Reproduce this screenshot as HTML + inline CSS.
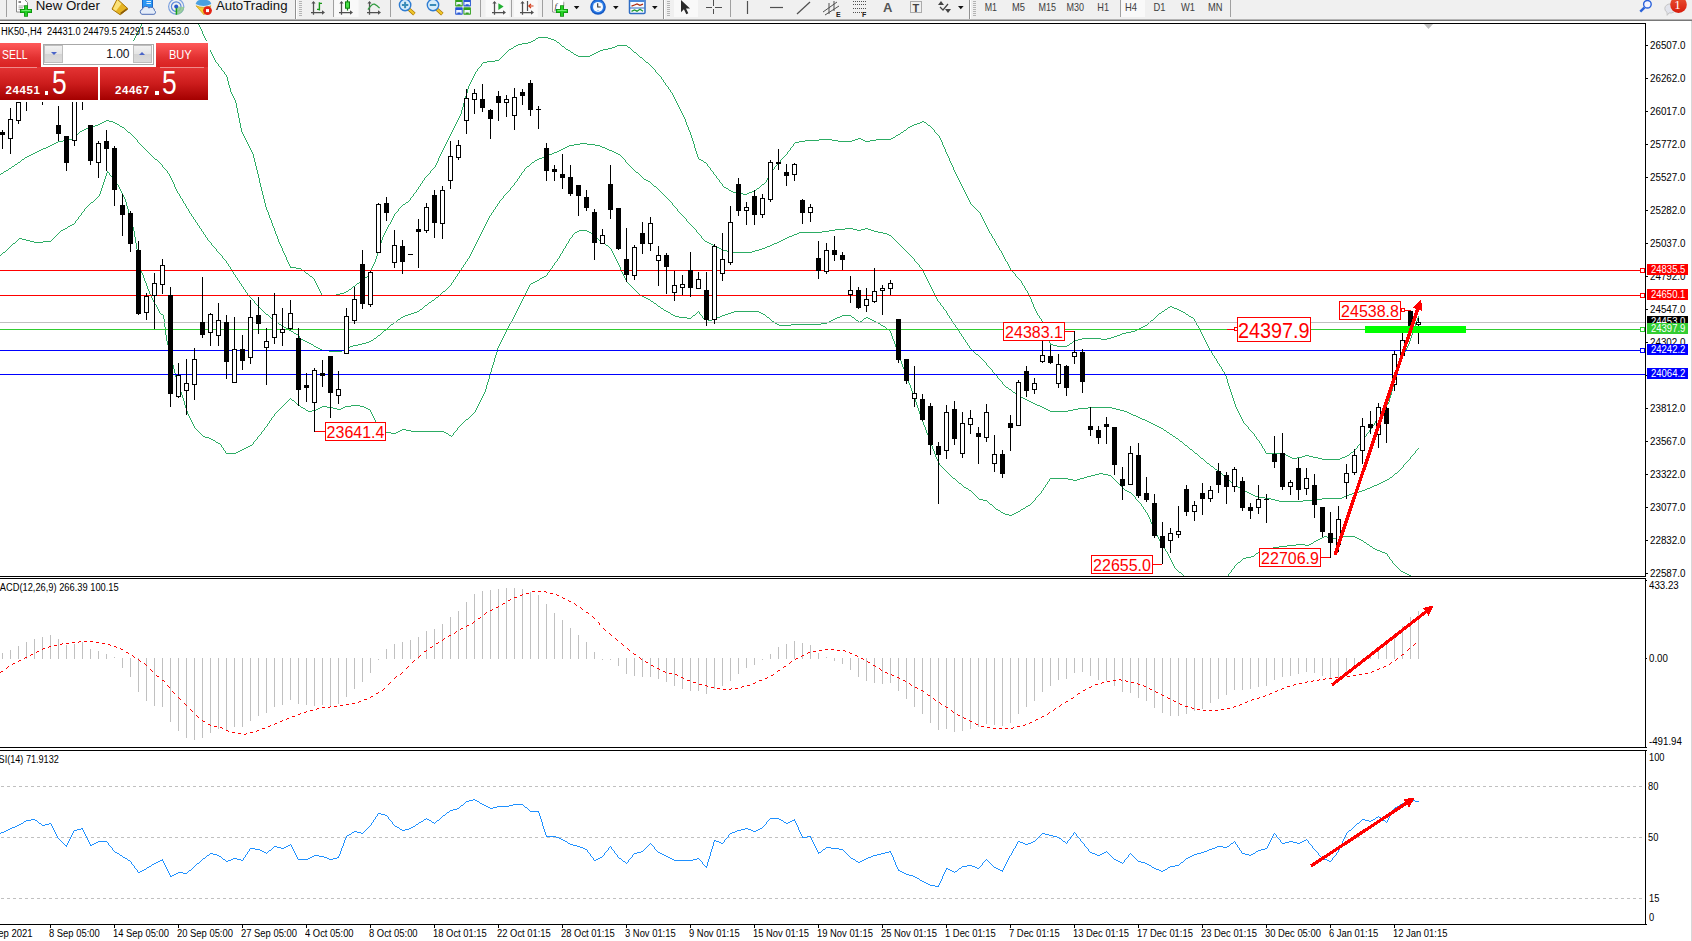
<!DOCTYPE html>
<html><head><meta charset="utf-8"><title>HK50 H4</title><style>
*{margin:0;padding:0;box-sizing:border-box}
html,body{width:1692px;height:941px;overflow:hidden;background:#fff}
body{position:relative;font-family:"Liberation Sans",sans-serif}
svg{position:absolute;left:0;top:0}
.t{position:absolute;white-space:nowrap;line-height:12px;transform-origin:0 0}
.pb{position:absolute;left:1647px;width:41px;height:11px;font-size:10px;line-height:11px;white-space:nowrap;overflow:hidden}
.pb span{position:absolute;left:4px;top:0;transform:scaleX(.95);transform-origin:0 0}
.lb{position:absolute;border:1px solid #FF0000;background:#fff;color:#FF0000;text-align:center;white-space:nowrap;box-sizing:content-box;overflow:hidden}
.lb span{display:inline-block}
.big span{transform:scaleX(.9);transform-origin:50% 50%;margin:0 -6px}
#tp{position:absolute;left:0;top:43px;width:208px;height:57px}
#tp div{position:absolute;white-space:nowrap}
.rb{background:linear-gradient(#FF5A5A,#E23030 60%,#D82020);color:#fff}
.pp{background:linear-gradient(#E43434 0%,#CC1C1C 50%,#A40000 100%)}
.w{color:#fff;transform-origin:0 0}
.gb{background:linear-gradient(#F2F2F2 0%,#E4E4E4 49%,#D4D4D4 50%,#DCDCDC 100%);border:1px solid #BEBEBE}
</style></head><body>
<svg width="1692" height="941" viewBox="0 0 1692 941">
<defs><clipPath id="cm"><rect x="0" y="24" width="1645" height="552"/></clipPath></defs>
<rect x="0" y="0" width="1692" height="19" fill="#F0F0F0"/>
<rect x="0" y="19" width="1692" height="1" fill="#B4B4B4"/>
<rect x="0" y="20" width="1692" height="1" fill="#787878"/>
<rect x="0" y="21" width="1692" height="2" fill="#FFFFFF"/>
<rect x="6" y="0" width="1" height="17" fill="#A0A0A0"/>
<path d="M16.5,0 V12 H27.5 V2.5 L25,0" fill="#fff" stroke="#888" stroke-width="1"/>
<rect x="18.5" y="1.2" width="2.5" height="1.6" fill="#666"/>
<path d="M18.5,6H24M18.5,7.8H23M18.5,9.6H23" stroke="#999" stroke-width="0.9"/>
<path d="M26,5.25 v11.5 M20,11 h12" stroke="#0C8A0C" stroke-width="3.9" fill="none"/>
<path d="M26,6 v10 M20.8,11 h10.4" stroke="#22D022" stroke-width="2.3" fill="none"/>
<path d="M21.5,10.5 h9" stroke="#7CF07C" stroke-width="0.9" fill="none"/>
<polygon points="117.2,-1 128,8.8 120.2,14.8 112,9.1" fill="#E6B422" stroke="#A87408" stroke-width="1"/>
<polygon points="117.3,0 121.5,3.8 116,11 113,9" fill="#FBE27A"/>
<path d="M120.6,13.6 L127,8.8" stroke="#8A5A08" stroke-width="1.6"/>
<rect x="142.5" y="-1" width="10" height="8.5" fill="#2A96F4" stroke="#1A6ACC" stroke-width="1"/>
<path d="M146.5,3.5H151M146.5,1.5H151" stroke="#DFF0FF" stroke-width="1"/>
<path d="M142,14.3 a2.6,2.6 0 0 1 0.3,-5 a3.6,3.6 0 0 1 6.6,-1.3 a3.4,3.4 0 0 1 5.6,2.6 a2,2 0 0 1 -0.6,3.7 z" fill="#E4ECF8" stroke="#4A6CB4" stroke-width="1"/>
<circle cx="176.2" cy="6.6" r="7.6" fill="none" stroke="#7DA2E0" stroke-width="1.2"/>
<circle cx="176.2" cy="6.6" r="4.8" fill="none" stroke="#5A86DA" stroke-width="1.2"/>
<path d="M176.2,6.6 L176.2,14.8 A8.2,8.2 0 0 0 184.3,7 Z" fill="#8FC98F" opacity="0.85"/>
<path d="M176.4,7 V14.7" stroke="#18A018" stroke-width="1.5"/>
<circle cx="176.2" cy="6.6" r="2" fill="#2858C8"/>
<path d="M195.6,4 Q197,0 200,0 L201.5,-2 H206 L207,0 Q210.5,0.5 211.3,4 Q203.5,8 195.6,4 Z" fill="#4AA0E0"/>
<path d="M196,5.8 Q203.5,9 211,5.8 L204,14.8 Z" fill="#F2CC30" stroke="#C89A10" stroke-width="0.7"/>
<circle cx="207.5" cy="10.6" r="4.4" fill="#E42414"/>
<rect x="206" y="9.1" width="3" height="3" fill="#fff"/>
<rect x="295" y="0" width="1" height="19" fill="#909090"/><rect x="296" y="0" width="1" height="19" fill="#FFFFFF"/>
<rect x="299" y="1" width="3" height="1" fill="#B4B4B4"/>
<rect x="299" y="3" width="3" height="1" fill="#B4B4B4"/>
<rect x="299" y="5" width="3" height="1" fill="#B4B4B4"/>
<rect x="299" y="7" width="3" height="1" fill="#B4B4B4"/>
<rect x="299" y="9" width="3" height="1" fill="#B4B4B4"/>
<rect x="299" y="11" width="3" height="1" fill="#B4B4B4"/>
<rect x="299" y="13" width="3" height="1" fill="#B4B4B4"/>
<rect x="299" y="15" width="3" height="1" fill="#B4B4B4"/>
<path d="M313.5,2 V14.7 M311,12.5 H323" stroke="#505050" stroke-width="1.25" fill="none"/>
<polygon points="322,10.3 325,12.5 322,14.7" fill="#505050"/>
<polygon points="311.4,3.6 313.5,1 315.6,3.6" fill="#505050"/>
<path d="M319.4,2.2 V10.6 M319.4,3.4 H322 M317,9.4 H319.4" stroke="#189818" stroke-width="1.4" fill="none"/>
<rect x="333" y="0" width="1" height="17" fill="#A0A0A0"/>
<rect x="334.3" y="0" width="24.3" height="17" fill="#F9F9F9"/>
<path d="M341.5,2 V14.7 M339,12.5 H351" stroke="#505050" stroke-width="1.25" fill="none"/>
<polygon points="350,10.3 353,12.5 350,14.7" fill="#505050"/>
<polygon points="339.4,3.6 341.5,1 343.6,3.6" fill="#505050"/>
<path d="M347.5,0 V10.6" stroke="#0E7A0E" stroke-width="1.2"/><rect x="345.5" y="1.9" width="4" height="6.3" fill="#46E046" stroke="#0E7A0E" stroke-width="1"/>
<path d="M369.5,2 V14.7 M367,12.5 H379" stroke="#505050" stroke-width="1.25" fill="none"/>
<polygon points="378,10.3 381,12.5 378,14.7" fill="#505050"/>
<polygon points="367.4,3.6 369.5,1 371.6,3.6" fill="#505050"/>
<path d="M368,9.7 Q372,3.4 374.5,4.2 Q377,5.4 379.6,8.1" stroke="#2E9A3E" stroke-width="1.3" fill="none"/>
<rect x="390" y="0" width="1" height="17" fill="#A0A0A0"/>
<path d="M408.70000000000005,9 L414.40000000000003,14.1" stroke="#A87408" stroke-width="3.6"/>
<path d="M409.0,9.2 L414.20000000000005,13.9" stroke="#F0C82A" stroke-width="2.2"/>
<circle cx="405.1" cy="5" r="5.7" fill="#D6ECFA" stroke="#2E7CD2" stroke-width="1.4"/>
<path d="M401.90000000000003,5 H408.3" stroke="#3A8CB8" stroke-width="2"/>
<path d="M405.1,1.8 V8.2" stroke="#3A8CB8" stroke-width="2"/>
<path d="M436.6,9 L442.3,14.1" stroke="#A87408" stroke-width="3.6"/>
<path d="M436.9,9.2 L442.1,13.9" stroke="#F0C82A" stroke-width="2.2"/>
<circle cx="433" cy="5" r="5.7" fill="#D6ECFA" stroke="#2E7CD2" stroke-width="1.4"/>
<path d="M429.8,5 H436.2" stroke="#3A8CB8" stroke-width="2"/>
<rect x="455.2" y="-1" width="7.5" height="7.5" rx="0.8" fill="#32A01E"/>
<path d="M456.2,1.9 h5.5 v3.4 h-1.2 v-1 h-3.1 v1 h-1.2 z" fill="#F2F6FF"/>
<rect x="463.4" y="-1" width="7.5" height="7.5" rx="0.8" fill="#2656D2"/>
<path d="M464.4,1.9 h5.5 v3.4 h-1.2 v-1 h-3.1 v1 h-1.2 z" fill="#F2F6FF"/>
<rect x="455.2" y="7.2" width="7.5" height="7.5" rx="0.8" fill="#2656D2"/>
<path d="M456.2,10.1 h5.5 v3.4 h-1.2 v-1 h-3.1 v1 h-1.2 z" fill="#F2F6FF"/>
<rect x="463.4" y="7.2" width="7.5" height="7.5" rx="0.8" fill="#32A01E"/>
<path d="M464.4,10.1 h5.5 v3.4 h-1.2 v-1 h-3.1 v1 h-1.2 z" fill="#F2F6FF"/>
<rect x="480" y="0" width="1" height="17" fill="#A0A0A0"/>
<rect x="485.6" y="0" width="23.8" height="17" fill="#F9F9F9"/>
<path d="M494.5,2 V14.7 M492,12.5 H504" stroke="#505050" stroke-width="1.25" fill="none"/>
<polygon points="503,10.3 506,12.5 503,14.7" fill="#505050"/>
<polygon points="492.4,3.6 494.5,1 496.6,3.6" fill="#505050"/>
<polygon points="498.4,3.2 498.4,10 503.6,6.6" fill="#22B032"/>
<rect x="511" y="0" width="1" height="17" fill="#A0A0A0"/>
<rect x="514" y="0" width="23.8" height="17" fill="#F9F9F9"/>
<path d="M522.5,2 V14.7 M520,12.5 H532" stroke="#505050" stroke-width="1.25" fill="none"/>
<polygon points="531,10.3 534,12.5 531,14.7" fill="#505050"/>
<polygon points="520.4,3.6 522.5,1 524.6,3.6" fill="#505050"/>
<path d="M527.5,1 V11" stroke="#505050" stroke-width="1.2"/><path d="M533.5,6 H528.8 M531,3.8 L528.8,6 L531,8.2" stroke="#D23410" stroke-width="1.2" fill="none"/>
<rect x="542" y="0" width="1" height="17" fill="#A0A0A0"/>
<path d="M552.7,0 V12 H560 M563.7,6 V2.5 L561.2,0" fill="none" stroke="#888" stroke-width="1"/>
<rect x="553.2" y="0" width="10" height="11.5" fill="#fff"/>
<text x="554.5" y="8.5" font-size="9" font-style="italic" font-family="Liberation Serif" fill="#333">f</text>
<path d="M562,5.25 v11.5 M556,11 h12" stroke="#0C8A0C" stroke-width="3.9" fill="none"/>
<path d="M562,6 v10 M556.8,11 h10.4" stroke="#22D022" stroke-width="2.3" fill="none"/>
<path d="M557.5,10.5 h9" stroke="#7CF07C" stroke-width="0.9" fill="none"/>
<polygon points="573.8,6 579.4,6 576.5999999999999,9.2" fill="#111"/>
<circle cx="598" cy="6.9" r="7.8" fill="#1458C4"/><circle cx="598" cy="6.6" r="6.6" fill="#2A7AE4"/><circle cx="598" cy="6.9" r="5" fill="#F6FAFF"/><path d="M597.7,3.3 V7 H600.7" stroke="#333" stroke-width="1.1" fill="none"/><circle cx="598" cy="10.6" r="0.7" fill="#6AA8F0"/>
<polygon points="613,6 618.6,6 615.8,9.2" fill="#111"/>
<rect x="629.5" y="-1" width="15.5" height="14.5" rx="1" fill="#F8FBFF" stroke="#2E6CC4" stroke-width="1.5"/>
<rect x="630" y="0" width="14.5" height="2" fill="#4A88DA"/><path d="M630,8H644.5" stroke="#2E6CC4" stroke-width="1"/>
<path d="M631.5,6.2 L634.5,5 L637,4 L640,5.4 L643,4.2" stroke="#B02A10" stroke-width="1.3" fill="none"/><path d="M631.5,11.3 L634.5,10 L637,11.2 L640,9.3 L643,11.3" stroke="#1E9A32" stroke-width="1.3" fill="none"/>
<polygon points="652,6 657.6,6 654.8,9.2" fill="#111"/>
<rect x="663" y="0" width="1" height="19" fill="#909090"/><rect x="664" y="0" width="1" height="19" fill="#FFFFFF"/>
<rect x="667" y="1" width="3" height="1" fill="#B4B4B4"/>
<rect x="667" y="3" width="3" height="1" fill="#B4B4B4"/>
<rect x="667" y="5" width="3" height="1" fill="#B4B4B4"/>
<rect x="667" y="7" width="3" height="1" fill="#B4B4B4"/>
<rect x="667" y="9" width="3" height="1" fill="#B4B4B4"/>
<rect x="667" y="11" width="3" height="1" fill="#B4B4B4"/>
<rect x="667" y="13" width="3" height="1" fill="#B4B4B4"/>
<rect x="667" y="15" width="3" height="1" fill="#B4B4B4"/>
<rect x="674" y="0" width="24" height="17" fill="#F9F9F9"/>
<polygon points="681,0 681,12.2 683.9,9.3 686.3,14.2 688.3,13.2 686,8.6 690,8.6" fill="#2A2A2A"/>
<path d="M713.5,0 V14 M706,7.5 H722" stroke="#505050" stroke-width="1"/><rect x="712" y="6" width="3" height="3" fill="#F0F0F0"/>
<rect x="730" y="0" width="1" height="17" fill="#A0A0A0"/>
<path d="M747.5,1 V14" stroke="#505050" stroke-width="1.2"/>
<path d="M770,7.5 H783" stroke="#505050" stroke-width="1.2"/>
<path d="M797,14 L810,2" stroke="#505050" stroke-width="1.2"/>
<path d="M823,12 L837,2 M825,15 L839,6 M829,3 V14 M834,1 V11" stroke="#505050" stroke-width="1"/>
<text x="836" y="17" font-size="7" font-family="Liberation Sans" fill="#222" font-weight="bold">E</text>
<path d="M853,1.5 H866" stroke="#505050" stroke-width="1" stroke-dasharray="1 1"/>
<path d="M853,4.5 H866" stroke="#505050" stroke-width="1" stroke-dasharray="1 1"/>
<path d="M853,8.5 H866" stroke="#505050" stroke-width="1" stroke-dasharray="1 1"/>
<path d="M853,12.5 H866" stroke="#505050" stroke-width="1" stroke-dasharray="1 1"/>
<text x="862" y="17" font-size="7" font-family="Liberation Sans" fill="#222" font-weight="bold">F</text>
<text x="883" y="12" font-size="13" font-family="Liberation Sans" fill="#555" font-weight="bold">A</text>
<rect x="910.5" y="1.5" width="11" height="11" fill="none" stroke="#666" stroke-width="1" stroke-dasharray="1 1"/>
<text x="912.5" y="12" font-size="11" font-family="Liberation Sans" fill="#444" font-weight="bold">T</text>
<path d="M938,5 L941,1 L944,5 Z M945,9 L948,13 L951,9 Z" fill="#444"/><path d="M940,7 L943,10 L948,4" stroke="#444" stroke-width="1.2" fill="none"/>
<polygon points="958,6 963.6,6 960.8,9.2" fill="#111"/>
<rect x="969" y="0" width="1" height="19" fill="#909090"/><rect x="970" y="0" width="1" height="19" fill="#FFFFFF"/>
<rect x="973" y="1" width="3" height="1" fill="#B4B4B4"/>
<rect x="973" y="3" width="3" height="1" fill="#B4B4B4"/>
<rect x="973" y="5" width="3" height="1" fill="#B4B4B4"/>
<rect x="973" y="7" width="3" height="1" fill="#B4B4B4"/>
<rect x="973" y="9" width="3" height="1" fill="#B4B4B4"/>
<rect x="973" y="11" width="3" height="1" fill="#B4B4B4"/>
<rect x="973" y="13" width="3" height="1" fill="#B4B4B4"/>
<rect x="973" y="15" width="3" height="1" fill="#B4B4B4"/>
<rect x="1120" y="0" width="1" height="17" fill="#A0A0A0"/>
<rect x="1121" y="0" width="24" height="17" fill="#F9F9F9"/>
<text x="984.7" y="11.2" font-size="10.5" font-family="Liberation Sans" fill="#404040" textLength="12.3" lengthAdjust="spacingAndGlyphs">M1</text>
<text x="1012" y="11.2" font-size="10.5" font-family="Liberation Sans" fill="#404040" textLength="13" lengthAdjust="spacingAndGlyphs">M5</text>
<text x="1038.5" y="11.2" font-size="10.5" font-family="Liberation Sans" fill="#404040" textLength="17.5" lengthAdjust="spacingAndGlyphs">M15</text>
<text x="1066.5" y="11.2" font-size="10.5" font-family="Liberation Sans" fill="#404040" textLength="17.5" lengthAdjust="spacingAndGlyphs">M30</text>
<text x="1097.3" y="11.2" font-size="10.5" font-family="Liberation Sans" fill="#404040" textLength="11.7" lengthAdjust="spacingAndGlyphs">H1</text>
<text x="1125" y="11.2" font-size="10.5" font-family="Liberation Sans" fill="#404040" textLength="12" lengthAdjust="spacingAndGlyphs">H4</text>
<text x="1153.5" y="11.2" font-size="10.5" font-family="Liberation Sans" fill="#404040" textLength="12" lengthAdjust="spacingAndGlyphs">D1</text>
<text x="1181" y="11.2" font-size="10.5" font-family="Liberation Sans" fill="#404040" textLength="14" lengthAdjust="spacingAndGlyphs">W1</text>
<text x="1208" y="11.2" font-size="10.5" font-family="Liberation Sans" fill="#404040" textLength="14.5" lengthAdjust="spacingAndGlyphs">MN</text>
<rect x="1230" y="0" width="1" height="17" fill="#A0A0A0"/>
<path d="M1640.3,11.7 L1644.4,7.6" stroke="#2A62DA" stroke-width="2.4"/><circle cx="1647.4" cy="4.25" r="3.8" fill="#F4F4FF" stroke="#2A62DA" stroke-width="1.4"/>
<path d="M1664.8,8.5 a5.6,4.6 0 0 1 11.2,0 a5.6,4.6 0 0 1 -7,4.4 l-1.8,2.4 l-0.2,-3 a4.6,4.6 0 0 1 -2.2,-3.8z" fill="#E2E4EC" stroke="#C4C4C4" stroke-width="1"/>
<defs><linearGradient id="bg1" x1="0" y1="0" x2="0" y2="1"><stop offset="0" stop-color="#EA5434"/><stop offset="1" stop-color="#D81C0C"/></linearGradient></defs><circle cx="1678.5" cy="4.7" r="8.3" fill="url(#bg1)"/>
<text x="1674.2" y="8.9" font-size="13" font-family="Liberation Serif" fill="#fff">1</text>
<text x="35.7" y="9.9" font-size="12.5" font-family="Liberation Sans" fill="#101010" textLength="64.2" lengthAdjust="spacingAndGlyphs">New Order</text>
<text x="216" y="9.9" font-size="12.5" font-family="Liberation Sans" fill="#101010" textLength="71.5" lengthAdjust="spacingAndGlyphs">AutoTrading</text>
<g shape-rendering="crispEdges">
<path fill="#2CAC64" d="M29 155h2v1h-2zM547 155h2v1h-2zM522 43h6v1h-6zM893 137h2v1h-2zM1279 546h8v1h-8zM1370 546h2v1h-2zM540 278h2v1h-2zM708 320h4v1h-4zM831 320h2v1h-2zM856 320h2v1h-2zM872 320h2v1h-2zM1151 320h2v1h-2zM8 90h5v1h-5zM279 324h2v1h-2zM391 324h2v1h-2zM777 324h2v1h-2zM791 324h30v1h-30zM983 500h4v1h-4zM1275 500h4v1h-4zM1303 500h11v1h-11zM296 268h5v1h-5zM535 281h2v1h-2zM775 323h2v1h-2zM821 323h6v1h-6zM878 323h2v1h-2zM514 46h2v1h-2zM562 46h2v1h-2zM615 46h2v1h-2zM349 289h2v1h-2zM294 333h2v1h-2zM1122 333h4v1h-4zM56 142h2v1h-2zM795 142h4v1h-4zM405 315h3v1h-3zM673 315h2v1h-2zM693 315h2v1h-2zM722 315h3v1h-3zM842 315h9v1h-9zM1013 392h2v1h-2zM511 48h2v1h-2zM608 48h4v1h-4zM1151 423h2v1h-2zM351 405h9v1h-9zM1037 405h3v1h-3zM106 120h3v1h-3zM598 51h2v1h-2zM1251 556h3v1h-3zM65 228h2v1h-2zM845 228h8v1h-8zM865 228h3v1h-3zM19 238h3v1h-3zM785 238h2v1h-2zM353 286h2v1h-2zM236 452h2v1h-2zM1351 452h2v1h-2zM578 56h12v1h-12zM1029 401h2v1h-2zM301 339h2v1h-2zM1078 339h4v1h-4zM1101 339h6v1h-6zM518 44h4v1h-4zM322 406h5v1h-5zM345 406h6v1h-6zM360 406h4v1h-4zM1040 406h2v1h-2zM34 242h9v1h-9zM601 242h2v1h-2zM707 242h2v1h-2zM777 242h2v1h-2zM1005 514h4v1h-4zM1012 514h2v1h-2zM1099 473h4v1h-4zM1220 473h2v1h-2zM1395 473h2v1h-2zM73 77h5v1h-5zM1215 469h2v1h-2zM466 419h2v1h-2zM1142 419h3v1h-3zM483 62h4v1h-4zM646 62h2v1h-2zM592 234h2v1h-2zM794 234h3v1h-3zM887 234h2v1h-2zM104 121h2v1h-2zM109 121h4v1h-4zM922 121h2v1h-2zM1131 414h2v1h-2zM98 72h5v1h-5zM226 453h10v1h-10zM1195 453h2v1h-2zM1266 453h14v1h-14zM642 296h2v1h-2zM1087 476h4v1h-4zM58 80h5v1h-5zM787 237h2v1h-2zM414 312h3v1h-3zM668 312h2v1h-2zM731 312h3v1h-3zM759 312h2v1h-2zM1183 312h2v1h-2zM353 345h5v1h-5zM1053 345h4v1h-4zM1067 345h2v1h-2zM737 193h6v1h-6zM747 193h2v1h-2zM53 81h5v1h-5zM654 186h2v1h-2zM731 191h2v1h-2zM752 191h2v1h-2zM606 245h2v1h-2zM713 245h2v1h-2zM770 245h2v1h-2zM719 248h2v1h-2zM762 248h3v1h-3zM400 430h2v1h-2zM406 430h5v1h-5zM1164 430h2v1h-2zM1168 307h2v1h-2zM1172 307h2v1h-2zM1211 466h2v1h-2zM281 325h2v1h-2zM779 325h12v1h-12zM881 325h2v1h-2zM1145 325h2v1h-2zM687 318h4v1h-4zM714 318h3v1h-3zM835 318h2v1h-2zM864 318h2v1h-2zM868 318h2v1h-2zM58 141h5v1h-5zM799 141h6v1h-6zM838 141h14v1h-14zM865 141h5v1h-5zM1324 536h3v1h-3zM1341 536h14v1h-14zM1296 544h9v1h-9zM1309 544h2v1h-2zM1367 544h2v1h-2zM1095 474h4v1h-4zM1103 474h5v1h-5zM398 319h2v1h-2zM704 319h4v1h-4zM712 319h2v1h-2zM833 319h2v1h-2zM870 319h2v1h-2zM39 150h2v1h-2zM559 150h2v1h-2zM609 150h3v1h-3zM727 251h6v1h-6zM752 251h3v1h-3zM403 316h2v1h-2zM675 316h4v1h-4zM720 316h2v1h-2zM840 316h2v1h-2zM1189 316h2v1h-2zM1273 547h6v1h-6zM1382 552h3v1h-3zM531 41h2v1h-2zM577 231h2v1h-2zM587 231h2v1h-2zM822 231h7v1h-7zM874 231h4v1h-4zM535 160h2v1h-2zM701 160h2v1h-2zM23 87h5v1h-5zM37 151h2v1h-2zM557 151h2v1h-2zM612 151h2v1h-2zM311 344h2v1h-2zM358 344h4v1h-4zM1050 344h3v1h-3zM357 283h2v1h-2zM531 283h2v1h-2zM1251 494h2v1h-2zM1349 494h3v1h-3zM18 162h2v1h-2zM532 162h2v1h-2zM704 162h2v1h-2zM1255 496h4v1h-4zM1344 496h3v1h-3zM612 47h3v1h-3zM628 47h2v1h-2zM998 510h2v1h-2zM63 229h2v1h-2zM835 229h10v1h-10zM853 229h4v1h-4zM861 229h4v1h-4zM868 229h3v1h-3zM316 347h2v1h-2zM348 347h2v1h-2zM1287 545h9v1h-9zM1305 545h4v1h-4zM568 50h2v1h-2zM600 50h3v1h-3zM84 129h2v1h-2zM82 130h2v1h-2zM904 130h2v1h-2zM792 235h2v1h-2zM889 235h2v1h-2zM216 442h2v1h-2zM289 330h2v1h-2zM384 330h2v1h-2zM1135 330h2v1h-2zM301 407h2v1h-2zM320 407h2v1h-2zM327 407h6v1h-6zM343 407h2v1h-2zM364 407h2v1h-2zM1042 407h2v1h-2zM1088 407h24v1h-24zM723 250h4v1h-4zM755 250h4v1h-4zM571 52h2v1h-2zM596 52h2v1h-2zM634 52h2v1h-2zM374 338h2v1h-2zM1082 338h19v1h-19zM1107 338h4v1h-4zM346 291h2v1h-2zM443 291h2v1h-2zM575 232h2v1h-2zM589 232h2v1h-2zM799 232h23v1h-23zM878 232h5v1h-5zM1031 402h2v1h-2zM762 184h2v1h-2zM979 499h4v1h-4zM1271 499h4v1h-4zM1314 499h8v1h-8zM61 230h2v1h-2zM579 230h8v1h-8zM829 230h6v1h-6zM857 230h4v1h-4zM871 230h3v1h-3zM1288 456h2v1h-2zM1302 456h3v1h-3zM1309 456h4v1h-4zM1345 456h2v1h-2zM429 302h2v1h-2zM1021 397h2v1h-2zM306 410h2v1h-2zM312 410h4v1h-4zM1048 410h2v1h-2zM1068 410h5v1h-5zM1120 410h4v1h-4zM69 139h3v1h-3zM819 139h13v1h-13zM855 139h3v1h-3zM861 139h2v1h-2zM876 139h15v1h-15zM308 411h4v1h-4zM1050 411h18v1h-18zM1124 411h3v1h-3zM1129 413h2v1h-2zM715 246h2v1h-2zM767 246h3v1h-3zM664 310h2v1h-2zM1179 310h2v1h-2zM1149 422h2v1h-2zM52 144h2v1h-2zM574 144h6v1h-6zM587 144h8v1h-8zM205 437h4v1h-4zM953 478h2v1h-2zM1050 478h18v1h-18zM1080 478h4v1h-4zM1226 478h2v1h-2zM1084 477h3v1h-3zM1390 477h2v1h-2zM98 124h2v1h-2zM117 124h2v1h-2zM914 124h3v1h-3zM402 429h4v1h-4zM516 45h2v1h-2zM617 45h10v1h-10zM361 280h2v1h-2zM537 280h2v1h-2zM1253 495h2v1h-2zM1347 495h2v1h-2zM12 166h2v1h-2zM527 166h2v1h-2zM209 438h2v1h-2zM1176 438h2v1h-2zM1068 479h5v1h-5zM1077 479h3v1h-3zM1387 479h2v1h-2zM1129 492h2v1h-2zM1247 492h2v1h-2zM1355 492h4v1h-4zM378 335h2v1h-2zM1117 335h3v1h-3zM25 157h2v1h-2zM542 157h2v1h-2zM1 173h2v1h-2zM1114 336h3v1h-3zM797 233h2v1h-2zM883 233h4v1h-4zM309 343h2v1h-2zM362 343h4v1h-4zM1070 343h2v1h-2zM1179 572h2v1h-2zM1403 572h2v1h-2zM1023 398h2v1h-2zM883 326h2v1h-2zM1143 326h2v1h-2zM316 409h2v1h-2zM337 409h4v1h-4zM368 409h2v1h-2zM1046 409h2v1h-2zM1073 409h5v1h-5zM1116 409h4v1h-4zM246 447h2v1h-2zM1025 399h2v1h-2zM128 132h2v1h-2zM901 132h2v1h-2zM1201 458h2v1h-2zM1292 458h5v1h-5zM1318 458h4v1h-4zM1340 458h2v1h-2zM721 249h2v1h-2zM759 249h3v1h-3zM1147 421h2v1h-2zM46 147h2v1h-2zM565 147h2v1h-2zM602 147h3v1h-3zM449 435h2v1h-2zM898 134h2v1h-2zM63 140h6v1h-6zM805 140h14v1h-14zM832 140h6v1h-6zM852 140h3v1h-3zM863 140h2v1h-2zM870 140h6v1h-6zM729 190h2v1h-2zM754 190h2v1h-2zM536 38h2v1h-2zM548 38h3v1h-3zM33 153h2v1h-2zM552 153h2v1h-2zM616 153h2v1h-2zM238 451h2v1h-2zM386 432h5v1h-5zM396 432h2v1h-2zM444 432h2v1h-2zM1167 432h2v1h-2zM1157 426h2v1h-2zM411 313h3v1h-3zM728 313h3v1h-3zM761 313h2v1h-2zM1159 313h2v1h-2zM1241 489h2v1h-2zM1365 489h2v1h-2zM858 138h3v1h-3zM891 138h2v1h-2zM1249 493h2v1h-2zM1352 493h3v1h-3zM1265 498h6v1h-6zM1322 498h20v1h-20zM296 334h2v1h-2zM1120 334h2v1h-2zM1170 434h2v1h-2zM322 295h14v1h-14zM640 295h2v1h-2zM1279 501h24v1h-24zM1026 506h2v1h-2zM743 194h4v1h-4zM303 340h2v1h-2zM371 340h2v1h-2zM1075 340h3v1h-3zM108 70h3v1h-3zM68 78h5v1h-5zM1322 459h18v1h-18zM43 148h3v1h-3zM563 148h2v1h-2zM605 148h2v1h-2zM398 431h2v1h-2zM411 431h33v1h-33zM1322 537h2v1h-2zM1327 537h4v1h-4zM1336 537h5v1h-5zM1355 537h2v1h-2zM13 243h2v1h-2zM603 243h2v1h-2zM709 243h2v1h-2zM774 243h3v1h-3zM33 85h5v1h-5zM286 328h2v1h-2zM1139 328h2v1h-2zM41 149h2v1h-2zM561 149h2v1h-2zM607 149h2v1h-2zM274 321h2v1h-2zM772 321h2v1h-2zM829 321h2v1h-2zM860 321h2v1h-2zM874 321h2v1h-2zM538 37h10v1h-10zM35 152h2v1h-2zM554 152h3v1h-3zM614 152h2v1h-2zM417 311h2v1h-2zM666 311h2v1h-2zM734 311h25v1h-25zM1162 311h2v1h-2zM1181 311h2v1h-2zM284 327h2v1h-2zM1141 327h2v1h-2zM290 267h6v1h-6zM1260 550h3v1h-3zM1377 550h3v1h-3zM1126 332h5v1h-5zM1380 551h2v1h-2zM1268 548h5v1h-5zM1373 548h2v1h-2zM70 225h2v1h-2zM276 322h2v1h-2zM394 322h2v1h-2zM827 322h2v1h-2zM876 322h2v1h-2zM1127 412h2v1h-2zM123 61h2v1h-2zM487 61h8v1h-8zM292 400h2v1h-2zM1027 400h2v1h-2zM318 348h2v1h-2zM346 348h2v1h-2zM86 128h3v1h-3zM100 123h2v1h-2zM115 123h2v1h-2zM917 123h3v1h-3zM320 349h2v1h-2zM344 349h2v1h-2zM1280 454h6v1h-6zM976 354h2v1h-2zM329 351h13v1h-13zM291 331h2v1h-2zM1131 331h4v1h-4zM344 292h2v1h-2zM30 241h4v1h-4zM43 241h8v1h-8zM705 241h2v1h-2zM779 241h2v1h-2zM711 244h2v1h-2zM772 244h2v1h-2zM1091 475h4v1h-4zM1108 475h3v1h-3zM161 314h2v1h-2zM266 314h2v1h-2zM408 314h3v1h-3zM671 314h2v1h-2zM725 314h3v1h-3zM763 314h2v1h-2zM1186 314h2v1h-2zM1263 549h5v1h-5zM1375 549h2v1h-2zM3 252h2v1h-2zM733 252h19v1h-19zM1155 425h2v1h-2zM50 145h2v1h-2zM569 145h5v1h-5zM595 145h5v1h-5zM401 317h2v1h-2zM679 317h8v1h-8zM717 317h3v1h-3zM767 317h2v1h-2zM837 317h3v1h-3zM852 317h2v1h-2zM866 317h2v1h-2zM1191 317h2v1h-2zM539 158h3v1h-3zM1028 505h2v1h-2zM533 40h2v1h-2zM554 40h2v1h-2zM365 277h2v1h-2zM542 277h2v1h-2zM1006 387h2v1h-2zM1180 441h2v1h-2zM1018 395h2v1h-2zM1111 337h3v1h-3zM303 408h2v1h-2zM318 408h2v1h-2zM333 408h4v1h-4zM341 408h2v1h-2zM366 408h2v1h-2zM1044 408h2v1h-2zM1078 408h10v1h-10zM1112 408h4v1h-4zM305 341h2v1h-2zM369 341h2v1h-2zM1073 341h2v1h-2zM717 247h2v1h-2zM765 247h2v1h-2zM107 172h2v1h-2zM636 172h2v1h-2zM1033 403h2v1h-2zM83 75h5v1h-5zM1286 455h2v1h-2zM1305 455h4v1h-4zM1347 455h2v1h-2zM43 83h5v1h-5zM654 303h2v1h-2zM380 427h2v1h-2zM1159 427h2v1h-2zM91 202h2v1h-2zM406 202h2v1h-2zM1016 394h2v1h-2zM391 433h5v1h-5zM446 433h2v1h-2zM48 146h2v1h-2zM567 146h2v1h-2zM600 146h2v1h-2zM103 71h5v1h-5zM1073 480h4v1h-4zM1385 480h2v1h-2zM28 86h5v1h-5zM218 443h2v1h-2zM1318 539h2v1h-2zM1359 539h2v1h-2zM54 143h2v1h-2zM580 143h7v1h-7zM31 154h2v1h-2zM549 154h3v1h-3zM618 154h2v1h-2zM240 450h2v1h-2zM576 55h2v1h-2zM590 55h2v1h-2zM340 293h4v1h-4zM68 226h2v1h-2zM114 67h2v1h-2zM244 448h2v1h-2zM648 181h2v1h-2zM1009 515h3v1h-3zM644 179h2v1h-2zM1140 418h2v1h-2zM789 236h3v1h-3zM646 298h2v1h-2zM425 305h2v1h-2zM658 306h2v1h-2zM1170 306h2v1h-2zM1372 486h2v1h-2zM1364 542h2v1h-2zM306 273h2v1h-2zM528 42h3v1h-3zM557 42h2v1h-2zM1259 497h6v1h-6zM1342 497h2v1h-2zM551 39h3v1h-3zM1003 513h2v1h-2zM1014 513h2v1h-2zM22 239h4v1h-4zM783 239h2v1h-2zM1409 575h2v1h-2zM1018 511h2v1h-2zM1320 538h2v1h-2zM1331 538h5v1h-5zM1357 538h2v1h-2zM1145 420h2v1h-2zM1138 417h2v1h-2zM3 91h5v1h-5zM969 490h2v1h-2zM1125 490h2v1h-2zM1243 490h2v1h-2zM1362 490h3v1h-3zM22 159h2v1h-2zM155 159h2v1h-2zM537 159h2v1h-2zM699 159h2v1h-2zM302 270h2v1h-2zM574 54h2v1h-2zM592 54h2v1h-2zM726 188h2v1h-2zM757 188h2v1h-2zM1001 512h2v1h-2zM1016 512h2v1h-2zM4 171h2v1h-2zM403 204h2v1h-2zM93 73h5v1h-5zM89 127h3v1h-3zM122 127h2v1h-2zM908 127h2v1h-2zM336 294h4v1h-4zM724 187h2v1h-2zM1136 416h2v1h-2zM959 483h2v1h-2zM1379 483h2v1h-2zM420 309h2v1h-2zM1165 309h2v1h-2zM1177 309h2v1h-2zM648 299h2v1h-2zM242 449h2v1h-2zM1190 449h2v1h-2zM314 346h2v1h-2zM350 346h3v1h-3zM1057 346h10v1h-10zM432 300h2v1h-2zM1290 457h2v1h-2zM1297 457h5v1h-5zM1313 457h5v1h-5zM1342 457h3v1h-3zM1133 415h3v1h-3zM18 88h5v1h-5zM651 301h2v1h-2zM1314 541h2v1h-2zM1023 508h2v1h-2zM297 404h2v1h-2zM1035 404h2v1h-2zM213 440h2v1h-2zM1153 424h2v1h-2zM1374 485h3v1h-3zM966 488h2v1h-2zM1367 488h3v1h-3zM27 156h2v1h-2zM544 156h3v1h-3zM887 329h2v1h-2zM1137 329h2v1h-2zM509 49h2v1h-2zM566 49h2v1h-2zM603 49h5v1h-5zM594 53h2v1h-2zM322 350h7v1h-7zM342 350h2v1h-2zM78 76h5v1h-5zM88 74h5v1h-5zM211 439h2v1h-2zM92 126h3v1h-3zM120 126h2v1h-2zM910 126h2v1h-2zM203 436h2v1h-2zM1173 436h2v1h-2zM1383 481h2v1h-2zM1311 543h2v1h-2zM15 164h2v1h-2zM646 180h2v1h-2zM80 131h2v1h-2zM48 82h5v1h-5zM1234 484h2v1h-2zM1377 484h2v1h-2zM13 89h5v1h-5zM1246 557h5v1h-5zM1009 389h2v1h-2zM26 240h4v1h-4zM781 240h2v1h-2zM102 122h2v1h-2zM113 122h2v1h-2zM920 122h2v1h-2zM924 122h2v1h-2zM95 125h3v1h-3zM912 125h2v1h-2zM928 125h2v1h-2zM75 135h2v1h-2zM896 135h2v1h-2zM6 170h2v1h-2zM310 276h2v1h-2zM544 276h2v1h-2zM1256 553h2v1h-2zM1385 553h2v1h-2zM1316 540h2v1h-2zM1361 540h2v1h-2zM248 446h2v1h-2zM733 192h4v1h-4zM749 192h3v1h-3zM63 79h5v1h-5zM1207 463h2v1h-2zM9 168h2v1h-2zM1231 482h2v1h-2zM1381 482h2v1h-2zM964 487h2v1h-2zM1238 487h2v1h-2zM1370 487h2v1h-2zM996 509h2v1h-2zM1021 509h2v1h-2zM1407 574h2v1h-2zM1401 571h2v1h-2zM38 84h5v1h-5zM661 308h2v1h-2zM1174 308h3v1h-3zM250 445h2v1h-2zM1185 445h2v1h-2zM1127 491h2v1h-2zM1245 491h2v1h-2zM1359 491h3v1h-3zM307 342h2v1h-2zM366 342h3v1h-3zM1243 558h3v1h-3zM436 297h2v1h-2zM644 297h2v1h-2zM1161 428h2v1h-2zM495 60h4v1h-4zM0 92h3v1h-3zM990 504h2v1h-2zM111 69h2v1h-2zM117 65h2v1h-2zM1405 573h2v1h-2zM72 224h2v1h-2zM640 57h2v1h-2zM1238 562h2v1h-2zM533 282h2v1h-2zM120 63h2v1h-2zM440 154h1v2h-1zM440 294h1v1h-1zM243 134h1v2h-1zM243 287h1v2h-1zM786 154h1v1h-1zM376 256h1v3h-1zM376 337h1v1h-1zM376 422h1v2h-1zM1195 321h1v2h-1zM281 246h1v2h-1zM281 407h1v1h-1zM927 124h1v1h-1zM927 279h1v2h-1zM927 433h1v2h-1zM495 207h1v2h-1zM495 355h1v3h-1zM261 187h1v4h-1zM261 309h1v1h-1zM261 432h1v2h-1zM677 103h1v2h-1zM677 209h1v2h-1zM1177 570h1v1h-1zM1199 328h1v2h-1zM1199 456h1v1h-1zM144 148h1v1h-1zM144 278h1v3h-1zM1383 409h1v1h-1zM282 248h1v3h-1zM282 406h1v1h-1zM766 180h1v2h-1zM766 316h1v1h-1zM314 279h1v2h-1zM12 244h1v1h-1zM1378 416h1v2h-1zM264 199h1v4h-1zM264 312h1v1h-1zM264 428h1v2h-1zM315 281h1v2h-1zM147 151h1v1h-1zM147 286h1v3h-1zM463 103h1v4h-1zM463 265h1v2h-1zM463 422h1v1h-1zM1391 391h1v4h-1zM1391 560h1v1h-1zM123 195h1v2h-1zM168 173h1v1h-1zM168 345h1v4h-1zM880 324h1v1h-1zM148 152h1v1h-1zM148 289h1v2h-1zM195 220h1v2h-1zM195 428h1v1h-1zM503 55h1v1h-1zM503 196h1v2h-1zM503 336h1v2h-1zM550 269h1v2h-1zM891 236h1v1h-1zM891 333h1v3h-1zM992 236h1v2h-1zM992 370h1v2h-1zM992 505h1v1h-1zM937 134h1v1h-1zM937 299h1v2h-1zM937 459h1v2h-1zM468 86h1v3h-1zM468 258h1v1h-1zM468 418h1v1h-1zM124 128h1v1h-1zM124 197h1v2h-1zM948 156h1v2h-1zM948 315h1v1h-1zM948 473h1v1h-1zM912 257h1v1h-1zM912 391h1v2h-1zM1248 427h1v2h-1zM209 48h1v2h-1zM209 241h1v1h-1zM1374 423h1v2h-1zM608 246h1v1h-1zM137 32h1v2h-1zM137 140h1v2h-1zM137 249h1v5h-1zM1043 323h1v2h-1zM1043 488h1v2h-1zM3 172h1v1h-1zM432 169h1v1h-1zM918 264h1v1h-1zM918 408h1v3h-1zM952 165h1v2h-1zM952 321h1v1h-1zM952 477h1v1h-1zM162 165h1v2h-1zM959 180h1v2h-1zM959 331h1v2h-1zM487 220h1v2h-1zM487 382h1v3h-1zM239 118h1v5h-1zM239 281h1v2h-1zM380 243h1v3h-1zM380 334h1v1h-1zM392 218h1v2h-1zM257 170h1v4h-1zM257 305h1v1h-1zM257 437h1v2h-1zM632 50h1v1h-1zM632 168h1v1h-1zM632 287h1v1h-1zM691 135h1v3h-1zM691 225h1v1h-1zM691 317h1v1h-1zM1165 549h1v2h-1zM427 175h1v1h-1zM427 304h1v1h-1zM633 51h1v1h-1zM633 169h1v1h-1zM633 288h1v1h-1zM1013 272h1v1h-1zM665 83h1v2h-1zM665 196h1v1h-1zM919 265h1v2h-1zM919 411h1v3h-1zM1227 379h1v4h-1zM644 60h1v1h-1zM1169 433h1v1h-1zM1169 556h1v2h-1zM922 269h1v2h-1zM922 419h1v3h-1zM694 144h1v4h-1zM694 228h1v1h-1zM640 175h1v1h-1zM895 136h1v1h-1zM895 240h1v1h-1zM895 344h1v3h-1zM1014 273h1v1h-1zM483 228h1v2h-1zM483 394h1v2h-1zM1132 494h1v1h-1zM252 152h1v2h-1zM252 299h1v1h-1zM252 444h1v1h-1zM1024 286h1v2h-1zM708 166h1v1h-1zM1230 389h1v3h-1zM1230 481h1v1h-1zM1230 572h1v1h-1zM558 258h1v1h-1zM424 178h1v2h-1zM424 306h1v1h-1zM183 201h1v2h-1zM183 398h1v3h-1zM967 196h1v2h-1zM967 343h1v2h-1zM249 146h1v2h-1zM249 296h1v1h-1zM925 275h1v2h-1zM925 427h1v3h-1zM293 332h1v1h-1zM1414 326h1v3h-1zM1414 453h1v1h-1zM112 177h1v2h-1zM709 167h1v1h-1zM77 134h1v1h-1zM77 219h1v1h-1zM518 178h1v1h-1zM518 307h1v2h-1zM1403 354h1v2h-1zM1403 465h1v2h-1zM560 44h1v1h-1zM560 254h1v2h-1zM494 209h1v1h-1zM494 358h1v4h-1zM696 151h1v3h-1zM696 230h1v2h-1zM696 313h1v1h-1zM1003 255h1v2h-1zM1003 384h1v1h-1zM131 45h1v2h-1zM131 134h1v1h-1zM131 220h1v3h-1zM526 167h1v1h-1zM526 291h1v2h-1zM116 66h1v1h-1zM116 182h1v2h-1zM1034 307h1v2h-1zM1034 500h1v1h-1zM1147 324h1v1h-1zM1147 513h1v2h-1zM355 285h1v1h-1zM945 149h1v3h-1zM945 310h1v1h-1zM945 470h1v1h-1zM400 207h1v1h-1zM400 318h1v1h-1zM420 184h1v2h-1zM1035 309h1v2h-1zM1035 498h1v2h-1zM136 34h1v2h-1zM136 139h1v1h-1zM136 243h1v6h-1zM462 107h1v3h-1zM462 267h1v1h-1zM462 423h1v1h-1zM1236 407h1v2h-1zM1236 485h1v1h-1zM1236 564h1v1h-1zM460 114h1v2h-1zM460 270h1v1h-1zM460 425h1v1h-1zM269 215h1v3h-1zM269 316h1v1h-1zM269 421h1v2h-1zM430 171h1v2h-1zM502 56h1v1h-1zM502 198h1v1h-1zM502 338h1v2h-1zM374 262h1v2h-1zM374 418h1v2h-1zM395 213h1v1h-1zM549 271h1v1h-1zM1002 253h1v2h-1zM1002 382h1v2h-1zM270 218h1v2h-1zM270 317h1v1h-1zM270 420h1v1h-1zM1154 318h1v1h-1zM1154 529h1v2h-1zM217 63h1v1h-1zM217 251h1v1h-1zM188 209h1v2h-1zM188 414h1v2h-1zM375 259h1v3h-1zM375 420h1v2h-1zM1172 435h1v1h-1zM1172 562h1v2h-1zM1373 425h1v1h-1zM139 28h1v2h-1zM139 143h1v1h-1zM139 260h1v6h-1zM378 250h1v3h-1zM378 425h1v1h-1zM942 142h1v3h-1zM942 306h1v1h-1zM942 467h1v1h-1zM1358 445h1v1h-1zM78 133h1v1h-1zM78 217h1v2h-1zM438 158h1v3h-1zM438 296h1v1h-1zM230 88h1v4h-1zM230 267h1v2h-1zM255 162h1v4h-1zM255 303h1v1h-1zM255 440h1v1h-1zM618 263h1v2h-1zM892 237h1v1h-1zM892 336h1v3h-1zM897 242h1v1h-1zM897 350h1v3h-1zM943 145h1v2h-1zM943 307h1v2h-1zM943 468h1v1h-1zM379 246h1v4h-1zM379 426h1v1h-1zM164 168h1v1h-1zM164 319h1v8h-1zM1255 436h1v1h-1zM1255 554h1v1h-1zM498 203h1v1h-1zM498 346h1v2h-1zM391 220h1v2h-1zM175 187h1v2h-1zM175 373h1v4h-1zM174 184h1v3h-1zM174 369h1v4h-1zM100 191h1v3h-1zM132 43h1v2h-1zM132 135h1v1h-1zM132 223h1v4h-1zM983 219h1v2h-1zM983 360h1v1h-1zM1349 454h1v1h-1zM262 191h1v4h-1zM262 310h1v1h-1zM262 431h1v1h-1zM242 132h1v2h-1zM242 286h1v1h-1zM1366 434h1v2h-1zM1366 543h1v1h-1zM18 239h1v1h-1zM984 221h1v2h-1zM984 361h1v1h-1zM280 244h1v2h-1zM280 408h1v1h-1zM514 183h1v2h-1zM514 315h1v2h-1zM1049 340h1v3h-1zM1049 479h1v2h-1zM534 161h1v1h-1zM675 99h1v2h-1zM675 207h1v1h-1zM1197 325h1v1h-1zM1197 454h1v1h-1zM625 160h1v2h-1zM625 278h1v2h-1zM75 221h1v2h-1zM95 199h1v1h-1zM934 130h1v2h-1zM934 293h1v2h-1zM934 451h1v3h-1zM1200 330h1v2h-1zM1200 457h1v1h-1zM363 279h1v1h-1zM313 278h1v1h-1zM313 345h1v1h-1zM387 227h1v2h-1zM387 328h1v1h-1zM259 178h1v5h-1zM259 307h1v1h-1zM259 435h1v1h-1zM676 101h1v2h-1zM676 208h1v1h-1zM143 147h1v1h-1zM143 275h1v3h-1zM53 238h1v1h-1zM1413 329h1v3h-1zM1413 454h1v1h-1zM889 330h1v1h-1zM907 128h1v1h-1zM907 252h1v1h-1zM907 377h1v3h-1zM149 153h1v1h-1zM149 291h1v3h-1zM700 235h1v1h-1zM700 314h1v1h-1zM130 47h1v3h-1zM130 133h1v1h-1zM130 216h1v4h-1zM1233 398h1v3h-1zM1233 483h1v1h-1zM1233 568h1v1h-1zM569 239h1v2h-1zM287 260h1v2h-1zM287 401h1v1h-1zM125 59h1v2h-1zM125 129h1v1h-1zM125 199h1v3h-1zM928 281h1v2h-1zM928 435h1v3h-1zM193 217h1v2h-1zM193 424h1v2h-1zM936 133h1v1h-1zM936 297h1v2h-1zM936 457h1v2h-1zM994 239h1v2h-1zM994 373h1v1h-1zM994 507h1v1h-1zM530 164h1v1h-1zM530 284h1v1h-1zM1361 441h1v1h-1zM122 62h1v1h-1zM122 193h1v2h-1zM469 84h1v2h-1zM469 256h1v2h-1zM469 417h1v1h-1zM197 223h1v2h-1zM197 430h1v1h-1zM686 122h1v3h-1zM686 219h1v2h-1zM1208 346h1v2h-1zM1394 380h1v4h-1zM1394 474h1v1h-1zM1394 564h1v1h-1zM1041 319h1v2h-1zM1041 491h1v2h-1zM201 29h1v2h-1zM201 229h1v2h-1zM201 434h1v1h-1zM461 110h1v4h-1zM461 268h1v2h-1zM461 424h1v1h-1zM935 132h1v1h-1zM935 295h1v2h-1zM935 454h1v3h-1zM1237 409h1v2h-1zM1237 486h1v1h-1zM1237 563h1v1h-1zM211 52h1v2h-1zM211 243h1v2h-1zM138 30h1v2h-1zM138 142h1v1h-1zM138 254h1v6h-1zM1410 338h1v3h-1zM1410 457h1v2h-1zM238 113h1v5h-1zM238 280h1v1h-1zM442 150h1v2h-1zM442 292h1v1h-1zM932 128h1v1h-1zM932 289h1v2h-1zM932 446h1v3h-1zM146 150h1v1h-1zM146 283h1v3h-1zM917 263h1v1h-1zM917 405h1v3h-1zM157 160h1v1h-1zM157 307h1v2h-1zM160 163h1v1h-1zM160 313h1v1h-1zM1389 398h1v4h-1zM1389 478h1v1h-1zM1389 557h1v2h-1zM851 316h1v1h-1zM690 132h1v3h-1zM690 224h1v1h-1zM1164 310h1v1h-1zM1164 547h1v2h-1zM1167 308h1v1h-1zM1167 552h1v2h-1zM667 86h1v1h-1zM667 198h1v1h-1zM497 204h1v2h-1zM497 348h1v4h-1zM1417 318h1v3h-1zM1417 449h1v1h-1zM60 231h1v1h-1zM227 77h1v4h-1zM227 263h1v1h-1zM650 65h1v1h-1zM650 182h1v1h-1zM650 300h1v1h-1zM668 87h1v2h-1zM668 199h1v1h-1zM968 198h1v2h-1zM968 345h1v1h-1zM968 489h1v1h-1zM1388 402h1v2h-1zM1388 556h1v1h-1zM390 222h1v2h-1zM390 325h1v1h-1zM99 194h1v2h-1zM240 123h1v5h-1zM240 283h1v1h-1zM969 200h1v2h-1zM969 346h1v2h-1zM1134 496h1v1h-1zM1112 477h1v1h-1zM11 167h1v1h-1zM11 245h1v1h-1zM513 47h1v1h-1zM513 185h1v1h-1zM513 317h1v2h-1zM244 136h1v2h-1zM244 289h1v1h-1zM687 125h1v2h-1zM687 221h1v1h-1zM1020 280h1v1h-1zM1020 396h1v1h-1zM1020 510h1v1h-1zM1135 497h1v2h-1zM309 275h1v1h-1zM180 196h1v2h-1zM180 389h1v3h-1zM106 173h1v3h-1zM1145 510h1v2h-1zM386 229h1v2h-1zM386 329h1v1h-1zM1149 322h1v1h-1zM1149 517h1v2h-1zM484 226h1v2h-1zM484 392h1v2h-1zM135 36h1v2h-1zM135 138h1v1h-1zM135 237h1v6h-1zM1033 304h1v3h-1zM1033 501h1v1h-1zM568 241h1v2h-1zM265 203h1v4h-1zM265 313h1v1h-1zM265 427h1v1h-1zM780 160h1v2h-1zM1155 317h1v1h-1zM1155 531h1v2h-1zM268 212h1v3h-1zM268 315h1v1h-1zM268 423h1v1h-1zM373 264h1v2h-1zM373 339h1v1h-1zM373 416h1v2h-1zM126 57h1v2h-1zM126 130h1v1h-1zM126 202h1v4h-1zM594 235h1v1h-1zM951 163h1v2h-1zM951 319h1v2h-1zM951 476h1v1h-1zM1156 316h1v1h-1zM1156 533h1v2h-1zM1182 442h1v1h-1zM1182 574h1v1h-1zM103 182h1v3h-1zM6 250h1v1h-1zM172 180h1v2h-1zM172 361h1v4h-1zM616 259h1v2h-1zM1044 325h1v4h-1zM1044 487h1v1h-1zM595 236h1v1h-1zM1047 335h1v3h-1zM1047 482h1v2h-1zM472 78h1v2h-1zM472 250h1v2h-1zM472 414h1v1h-1zM128 52h1v3h-1zM128 209h1v4h-1zM504 54h1v1h-1zM504 195h1v1h-1zM504 334h1v2h-1zM275 231h1v3h-1zM275 413h1v1h-1zM791 147h1v1h-1zM1408 344h1v2h-1zM1408 460h1v1h-1zM956 174h1v2h-1zM956 327h1v1h-1zM956 480h1v1h-1zM223 71h1v1h-1zM223 258h1v1h-1zM223 448h1v2h-1zM1416 321h1v2h-1zM1416 450h1v1h-1zM913 258h1v1h-1zM913 393h1v3h-1zM902 247h1v1h-1zM902 364h1v3h-1zM1048 338h1v2h-1zM1048 481h1v1h-1zM986 225h1v2h-1zM986 363h1v2h-1zM678 105h1v2h-1zM678 211h1v1h-1zM141 24h1v2h-1zM141 145h1v1h-1zM141 270h1v3h-1zM623 158h1v1h-1zM623 274h1v2h-1zM657 73h1v1h-1zM657 188h1v1h-1zM657 305h1v1h-1zM923 271h1v2h-1zM923 422h1v3h-1zM298 335h1v1h-1zM627 46h1v1h-1zM627 163h1v1h-1zM627 282h1v1h-1zM453 128h1v2h-1zM453 280h1v2h-1zM453 433h1v2h-1zM693 141h1v3h-1zM693 227h1v1h-1zM624 159h1v1h-1zM624 276h1v2h-1zM1119 484h1v1h-1zM299 336h1v2h-1zM299 405h1v1h-1zM272 223h1v3h-1zM272 319h1v1h-1zM272 417h1v1h-1zM555 262h1v1h-1zM304 271h1v1h-1zM377 253h1v3h-1zM377 336h1v1h-1zM377 424h1v1h-1zM906 129h1v1h-1zM906 251h1v1h-1zM906 375h1v2h-1zM166 170h1v1h-1zM166 335h1v6h-1zM1232 395h1v3h-1zM1232 569h1v1h-1zM702 238h1v1h-1zM702 316h1v2h-1zM728 189h1v1h-1zM437 161h1v2h-1zM1379 414h1v2h-1zM385 231h1v2h-1zM385 431h1v1h-1zM685 119h1v3h-1zM685 218h1v1h-1zM208 45h1v3h-1zM208 240h1v1h-1zM1238 411h1v2h-1zM199 25h1v2h-1zM199 226h1v2h-1zM199 432h1v1h-1zM1210 350h1v1h-1zM1210 465h1v1h-1zM933 129h1v1h-1zM933 291h1v2h-1zM933 449h1v2h-1zM237 108h1v5h-1zM237 278h1v2h-1zM1239 413h1v2h-1zM213 56h1v2h-1zM213 246h1v1h-1zM158 161h1v1h-1zM158 309h1v2h-1zM1188 315h1v1h-1zM1188 447h1v1h-1zM1375 421h1v2h-1zM1253 433h1v1h-1zM989 231h1v2h-1zM989 367h1v1h-1zM989 503h1v1h-1zM159 162h1v1h-1zM159 311h1v2h-1zM1030 297h1v2h-1zM1030 504h1v1h-1zM1407 346h1v2h-1zM1407 461h1v1h-1zM622 157h1v1h-1zM622 272h1v2h-1zM167 171h1v2h-1zM167 341h1v4h-1zM170 176h1v2h-1zM170 353h1v4h-1zM1046 332h1v3h-1zM1046 484h1v1h-1zM471 80h1v2h-1zM471 252h1v2h-1zM471 415h1v1h-1zM200 27h1v2h-1zM200 228h1v1h-1zM200 433h1v1h-1zM663 80h1v2h-1zM663 194h1v1h-1zM663 309h1v1h-1zM190 213h1v1h-1zM190 418h1v2h-1zM1390 395h1v3h-1zM1390 559h1v1h-1zM664 82h1v1h-1zM664 195h1v1h-1zM1018 278h1v1h-1zM1136 499h1v1h-1zM176 189h1v2h-1zM176 377h1v3h-1zM134 38h1v2h-1zM134 137h1v1h-1zM134 231h1v6h-1zM246 140h1v2h-1zM246 292h1v1h-1zM506 52h1v1h-1zM506 193h1v1h-1zM506 330h1v2h-1zM467 89h1v4h-1zM467 259h1v2h-1zM177 191h1v2h-1zM177 380h1v3h-1zM284 253h1v2h-1zM284 404h1v1h-1zM452 130h1v2h-1zM452 282h1v1h-1zM452 435h1v1h-1zM713 172h1v2h-1zM930 126h1v1h-1zM930 285h1v2h-1zM930 441h1v2h-1zM554 263h1v2h-1zM519 176h1v2h-1zM519 305h1v2h-1zM1363 438h1v2h-1zM1363 541h1v1h-1zM356 284h1v1h-1zM1228 383h1v3h-1zM1228 479h1v1h-1zM1228 574h1v2h-1zM436 163h1v2h-1zM448 138h1v2h-1zM448 287h1v1h-1zM448 434h1v1h-1zM515 182h1v1h-1zM515 313h1v2h-1zM171 178h1v2h-1zM171 357h1v4h-1zM1216 359h1v2h-1zM431 170h1v1h-1zM431 301h1v1h-1zM1184 444h1v1h-1zM651 66h1v1h-1zM651 183h1v1h-1zM225 74h1v1h-1zM225 260h1v1h-1zM225 451h1v2h-1zM962 186h1v2h-1zM962 336h1v1h-1zM962 485h1v1h-1zM256 166h1v4h-1zM256 304h1v1h-1zM256 439h1v1h-1zM915 261h1v1h-1zM915 399h1v3h-1zM960 182h1v2h-1zM960 333h1v1h-1zM1406 348h1v2h-1zM1406 462h1v1h-1zM963 188h1v2h-1zM963 337h1v2h-1zM963 486h1v1h-1zM1010 268h1v2h-1zM901 246h1v1h-1zM901 361h1v3h-1zM987 227h1v2h-1zM987 365h1v1h-1zM987 501h1v1h-1zM966 194h1v2h-1zM966 342h1v1h-1zM81 213h1v2h-1zM1350 453h1v1h-1zM988 229h1v2h-1zM988 366h1v1h-1zM988 502h1v1h-1zM288 262h1v2h-1zM288 329h1v1h-1zM288 400h1v1h-1zM454 126h1v2h-1zM454 279h1v1h-1zM454 432h1v1h-1zM629 165h1v1h-1zM629 284h1v1h-1zM76 220h1v1h-1zM1121 486h1v1h-1zM451 132h1v2h-1zM451 283h1v2h-1zM451 436h1v1h-1zM1402 356h1v2h-1zM1402 467h1v1h-1zM510 188h1v2h-1zM510 323h1v1h-1zM232 94h1v2h-1zM232 271h1v1h-1zM1028 293h1v2h-1zM283 251h1v2h-1zM283 326h1v1h-1zM283 405h1v1h-1zM253 154h1v4h-1zM253 300h1v1h-1zM253 442h1v2h-1zM683 115h1v2h-1zM683 216h1v1h-1zM105 176h1v3h-1zM419 186h1v1h-1zM419 310h1v1h-1zM206 40h1v3h-1zM206 237h1v1h-1zM479 67h1v1h-1zM479 236h1v2h-1zM479 402h1v2h-1zM940 138h1v2h-1zM940 303h1v2h-1zM940 465h1v1h-1zM321 293h1v2h-1zM207 43h1v2h-1zM207 238h1v2h-1zM447 140h1v2h-1zM447 288h1v1h-1zM1415 323h1v3h-1zM1415 451h1v2h-1zM435 165h1v2h-1zM435 298h1v1h-1zM205 38h1v2h-1zM205 235h1v2h-1zM1357 446h1v2h-1zM215 60h1v2h-1zM215 248h1v1h-1zM215 441h1v1h-1zM1179 440h1v1h-1zM185 204h1v2h-1zM185 405h1v3h-1zM216 62h1v1h-1zM216 249h1v2h-1zM939 136h1v2h-1zM939 302h1v1h-1zM939 463h1v2h-1zM443 148h1v2h-1zM191 214h1v2h-1zM191 420h1v2h-1zM214 58h1v2h-1zM214 247h1v1h-1zM410 198h1v2h-1zM192 216h1v1h-1zM192 422h1v2h-1zM643 59h1v1h-1zM643 178h1v1h-1zM636 53h1v1h-1zM636 291h1v1h-1zM202 31h1v3h-1zM202 231h1v1h-1zM202 435h1v1h-1zM1392 387h1v4h-1zM1392 476h1v1h-1zM1392 561h1v2h-1zM475 72h1v2h-1zM475 244h1v2h-1zM475 410h1v2h-1zM277 236h1v3h-1zM277 411h1v1h-1zM133 40h1v3h-1zM133 136h1v1h-1zM133 227h1v4h-1zM179 194h1v2h-1zM179 386h1v3h-1zM1005 259h1v2h-1zM1005 386h1v1h-1zM573 53h1v1h-1zM573 234h1v1h-1zM1175 437h1v1h-1zM1175 568h1v1h-1zM1139 502h1v1h-1zM52 239h1v1h-1zM929 283h1v2h-1zM929 438h1v3h-1zM679 107h1v2h-1zM679 212h1v1h-1zM450 134h1v2h-1zM450 285h1v1h-1zM1201 332h1v2h-1zM492 212h1v1h-1zM492 365h1v3h-1zM317 285h1v2h-1zM422 181h1v2h-1zM422 308h1v1h-1zM150 154h1v1h-1zM150 294h1v2h-1zM564 47h1v1h-1zM564 248h1v1h-1zM991 234h1v2h-1zM991 369h1v1h-1zM756 189h1v1h-1zM1218 363h1v1h-1zM1218 471h1v1h-1zM914 259h1v2h-1zM914 396h1v3h-1zM142 146h1v1h-1zM142 273h1v2h-1zM1247 426h1v1h-1zM896 241h1v1h-1zM896 347h1v3h-1zM258 174h1v4h-1zM258 306h1v1h-1zM258 436h1v1h-1zM1222 369h1v2h-1zM1222 474h1v1h-1zM961 184h1v2h-1zM961 334h1v2h-1zM961 484h1v1h-1zM369 272h1v2h-1zM489 216h1v2h-1zM489 375h1v4h-1zM964 190h1v2h-1zM964 339h1v1h-1zM958 178h1v2h-1zM958 330h1v1h-1zM958 482h1v1h-1zM653 68h1v1h-1zM653 185h1v1h-1zM653 302h1v1h-1zM20 161h1v1h-1zM965 192h1v2h-1zM965 340h1v2h-1zM1265 451h1v2h-1zM672 93h1v2h-1zM672 203h1v2h-1zM787 152h1v2h-1zM509 190h1v1h-1zM509 324h1v2h-1zM1012 271h1v1h-1zM1012 391h1v1h-1zM1369 430h1v2h-1zM1369 545h1v1h-1zM1384 408h1v1h-1zM1131 493h1v1h-1zM251 150h1v2h-1zM251 298h1v1h-1zM110 175h1v1h-1zM707 164h1v2h-1zM698 157h1v2h-1zM698 233h1v1h-1zM698 311h1v1h-1zM234 98h1v2h-1zM234 274h1v1h-1zM505 53h1v1h-1zM505 194h1v1h-1zM505 332h1v2h-1zM231 92h1v2h-1zM231 269h1v2h-1zM186 206h1v2h-1zM186 408h1v3h-1zM189 211h1v2h-1zM189 416h1v2h-1zM947 154h1v2h-1zM947 313h1v2h-1zM947 472h1v1h-1zM779 162h1v1h-1zM67 227h1v1h-1zM1037 313h1v2h-1zM1037 496h1v1h-1zM278 239h1v3h-1zM278 323h1v1h-1zM278 410h1v1h-1zM563 249h1v2h-1zM382 237h1v3h-1zM382 332h1v1h-1zM382 428h1v1h-1zM5 251h1v1h-1zM163 167h1v1h-1zM163 315h1v4h-1zM1387 404h1v1h-1zM1387 554h1v2h-1zM770 174h1v1h-1zM770 319h1v1h-1zM1004 257h1v2h-1zM1004 385h1v1h-1zM941 140h1v2h-1zM941 305h1v1h-1zM941 466h1v1h-1zM300 338h1v1h-1zM300 406h1v1h-1zM771 172h1v2h-1zM771 320h1v1h-1zM173 182h1v2h-1zM173 365h1v4h-1zM617 261h1v2h-1zM620 155h1v1h-1zM620 267h1v3h-1zM539 279h1v1h-1zM559 43h1v1h-1zM559 256h1v2h-1zM425 177h1v1h-1zM276 234h1v2h-1zM276 412h1v1h-1zM233 96h1v2h-1zM233 272h1v2h-1zM689 130h1v2h-1zM689 223h1v1h-1zM1042 321h1v2h-1zM1042 490h1v1h-1zM236 103h1v5h-1zM236 277h1v1h-1zM1015 274h1v2h-1zM1015 393h1v1h-1zM250 148h1v2h-1zM250 297h1v1h-1zM767 178h1v2h-1zM428 174h1v1h-1zM428 303h1v1h-1zM401 206h1v1h-1zM285 255h1v2h-1zM285 403h1v1h-1zM1141 504h1v2h-1zM1203 336h1v2h-1zM1203 459h1v1h-1zM266 207h1v3h-1zM266 426h1v1h-1zM909 254h1v1h-1zM909 383h1v2h-1zM316 283h1v2h-1zM1240 415h1v2h-1zM1240 488h1v1h-1zM1240 561h1v1h-1zM169 174h1v2h-1zM169 349h1v4h-1zM289 264h1v2h-1zM289 399h1v1h-1zM993 238h1v1h-1zM993 372h1v1h-1zM993 506h1v1h-1zM597 238h1v1h-1zM1249 429h1v1h-1zM86 207h1v1h-1zM547 273h1v2h-1zM1224 372h1v2h-1zM1224 476h1v1h-1zM381 240h1v3h-1zM381 333h1v1h-1zM659 75h1v1h-1zM659 190h1v1h-1zM692 138h1v3h-1zM692 226h1v1h-1zM692 316h1v1h-1zM898 243h1v1h-1zM898 353h1v2h-1zM296 403h1v1h-1zM666 85h1v1h-1zM666 197h1v1h-1zM1166 431h1v1h-1zM1166 551h1v1h-1zM477 69h1v2h-1zM477 240h1v2h-1zM477 406h1v2h-1zM165 169h1v1h-1zM165 327h1v8h-1zM938 135h1v1h-1zM938 301h1v1h-1zM938 461h1v2h-1zM660 76h1v1h-1zM660 191h1v1h-1zM660 307h1v1h-1zM695 148h1v3h-1zM695 229h1v1h-1zM695 314h1v1h-1zM670 90h1v2h-1zM670 201h1v1h-1zM670 313h1v1h-1zM16 241h1v1h-1zM1133 495h1v1h-1zM1367 433h1v1h-1zM187 208h1v1h-1zM187 411h1v3h-1zM470 82h1v2h-1zM470 254h1v2h-1zM470 416h1v1h-1zM1362 440h1v1h-1zM985 223h1v2h-1zM985 362h1v1h-1zM946 152h1v2h-1zM946 311h1v2h-1zM946 471h1v1h-1zM1036 311h1v2h-1zM1036 497h1v1h-1zM1039 316h1v2h-1zM1039 494h1v1h-1zM372 266h1v2h-1zM372 414h1v2h-1zM1069 344h1v1h-1zM260 183h1v4h-1zM260 308h1v1h-1zM260 434h1v1h-1zM527 289h1v2h-1zM459 116h1v2h-1zM459 271h1v2h-1zM459 426h1v1h-1zM271 220h1v3h-1zM271 318h1v1h-1zM271 418h1v2h-1zM1158 314h1v1h-1zM1158 537h1v2h-1zM220 67h1v1h-1zM220 254h1v1h-1zM220 444h1v1h-1zM218 64h1v2h-1zM218 252h1v1h-1zM444 146h1v2h-1zM368 274h1v2h-1zM955 172h1v2h-1zM955 325h1v2h-1zM955 479h1v1h-1zM478 68h1v1h-1zM478 238h1v2h-1zM478 404h1v2h-1zM291 399h1v1h-1zM80 215h1v1h-1zM140 26h1v2h-1zM140 144h1v1h-1zM140 266h1v4h-1zM455 124h1v2h-1zM455 277h1v2h-1zM455 431h1v1h-1zM58 233h1v1h-1zM904 249h1v1h-1zM904 369h1v3h-1zM1050 343h1v1h-1zM626 162h1v1h-1zM626 280h1v2h-1zM474 74h1v2h-1zM474 246h1v2h-1zM474 412h1v1h-1zM1143 507h1v2h-1zM359 282h1v1h-1zM486 222h1v2h-1zM486 385h1v4h-1zM203 34h1v2h-1zM203 232h1v2h-1zM908 253h1v1h-1zM908 380h1v3h-1zM1234 401h1v3h-1zM1234 566h1v2h-1zM491 213h1v2h-1zM491 368h1v4h-1zM210 50h1v2h-1zM210 242h1v1h-1zM1209 348h1v2h-1zM1209 464h1v1h-1zM599 240h1v1h-1zM1212 353h1v2h-1zM792 146h1v1h-1zM1251 431h1v1h-1zM371 268h1v2h-1zM371 412h1v2h-1zM212 54h1v2h-1zM212 245h1v1h-1zM954 170h1v2h-1zM954 324h1v1h-1zM600 241h1v1h-1zM611 249h1v2h-1zM1259 441h1v2h-1zM1259 551h1v1h-1zM773 169h1v1h-1zM949 158h1v3h-1zM949 316h1v2h-1zM949 474h1v1h-1zM305 272h1v1h-1zM305 409h1v1h-1zM899 244h1v1h-1zM899 355h1v3h-1zM950 161h1v2h-1zM950 318h1v1h-1zM950 475h1v1h-1zM621 156h1v1h-1zM621 270h1v2h-1zM661 77h1v2h-1zM661 192h1v1h-1zM921 268h1v1h-1zM921 417h1v2h-1zM1168 554h1v2h-1zM900 133h1v1h-1zM900 245h1v1h-1zM900 358h1v3h-1zM1193 318h1v1h-1zM1193 451h1v1h-1zM228 81h1v4h-1zM228 264h1v2h-1zM522 172h1v1h-1zM522 299h1v2h-1zM367 276h1v1h-1zM662 79h1v1h-1zM662 193h1v1h-1zM17 163h1v1h-1zM17 240h1v1h-1zM1016 276h1v1h-1zM1194 319h1v2h-1zM1194 452h1v1h-1zM1017 277h1v1h-1zM439 156h1v2h-1zM439 295h1v1h-1zM114 180h1v1h-1zM711 170h1v1h-1zM1393 384h1v3h-1zM1393 475h1v1h-1zM1393 563h1v1h-1zM245 138h1v2h-1zM245 290h1v2h-1zM485 224h1v2h-1zM485 389h1v3h-1zM449 136h1v2h-1zM449 286h1v1h-1zM118 185h1v2h-1zM893 238h1v1h-1zM893 339h1v2h-1zM1157 315h1v1h-1zM1157 535h1v2h-1zM1163 429h1v1h-1zM1163 546h1v1h-1zM1409 341h1v3h-1zM1409 459h1v1h-1zM153 157h1v1h-1zM153 300h1v2h-1zM638 55h1v1h-1zM638 173h1v1h-1zM638 293h1v1h-1zM649 64h1v1h-1zM2 253h1v1h-1zM525 168h1v1h-1zM525 293h1v2h-1zM222 70h1v1h-1zM222 256h1v2h-1zM222 447h1v1h-1zM129 50h1v2h-1zM129 213h1v3h-1zM772 170h1v2h-1zM1045 329h1v3h-1zM1045 485h1v2h-1zM383 235h1v2h-1zM383 331h1v1h-1zM383 429h1v1h-1zM521 173h1v2h-1zM521 301h1v2h-1zM1178 439h1v1h-1zM1178 571h1v1h-1zM1229 386h1v3h-1zM1229 480h1v1h-1zM1229 573h1v1h-1zM924 273h1v2h-1zM924 425h1v2h-1zM783 157h1v1h-1zM628 164h1v1h-1zM628 283h1v1h-1zM1040 318h1v1h-1zM1040 493h1v1h-1zM273 226h1v2h-1zM273 320h1v1h-1zM273 416h1v1h-1zM9 247h1v1h-1zM609 247h1v1h-1zM1211 351h1v2h-1zM1376 419h1v2h-1zM1214 356h1v2h-1zM1214 468h1v1h-1zM501 57h1v1h-1zM501 199h1v1h-1zM501 340h1v2h-1zM384 233h1v2h-1zM384 430h1v1h-1zM613 253h1v2h-1zM1235 404h1v3h-1zM1235 565h1v1h-1zM102 185h1v3h-1zM548 272h1v1h-1zM394 214h1v2h-1zM274 228h1v3h-1zM274 414h1v2h-1zM1254 434h1v2h-1zM1254 555h1v1h-1zM971 204h1v1h-1zM971 349h1v1h-1zM971 491h1v1h-1zM645 61h1v1h-1zM1372 426h1v2h-1zM1372 547h1v1h-1zM1396 373h1v4h-1zM1396 566h1v1h-1zM254 158h1v4h-1zM254 301h1v2h-1zM254 441h1v1h-1zM488 218h1v2h-1zM488 379h1v3h-1zM634 170h1v1h-1zM634 289h1v1h-1zM997 245h1v1h-1zM997 376h1v2h-1zM1137 500h1v1h-1zM520 175h1v1h-1zM520 303h1v2h-1zM247 142h1v2h-1zM247 293h1v2h-1zM117 184h1v1h-1zM714 174h1v1h-1zM120 189h1v2h-1zM931 127h1v1h-1zM931 287h1v2h-1zM931 443h1v3h-1zM1138 501h1v1h-1zM1412 332h1v3h-1zM1412 455h1v1h-1zM464 100h1v3h-1zM464 264h1v1h-1zM464 421h1v1h-1zM551 268h1v1h-1zM151 155h1v1h-1zM151 296h1v2h-1zM352 287h1v1h-1zM605 244h1v1h-1zM524 169h1v2h-1zM524 295h1v2h-1zM953 167h1v3h-1zM953 322h1v2h-1zM85 208h1v1h-1zM393 216h1v2h-1zM393 323h1v1h-1zM224 72h1v2h-1zM224 259h1v1h-1zM224 450h1v1h-1zM413 194h1v2h-1zM481 64h1v2h-1zM481 232h1v2h-1zM481 398h1v2h-1zM101 188h1v3h-1zM894 239h1v1h-1zM894 341h1v3h-1zM1221 367h1v2h-1zM476 71h1v1h-1zM476 242h1v2h-1zM476 408h1v2h-1zM1395 377h1v3h-1zM1395 565h1v1h-1zM408 201h1v1h-1zM574 233h1v1h-1zM465 96h1v4h-1zM465 262h1v2h-1zM465 420h1v1h-1zM229 85h1v3h-1zM229 266h1v1h-1zM671 92h1v1h-1zM671 202h1v1h-1zM423 180h1v1h-1zM423 307h1v1h-1zM389 224h1v1h-1zM389 326h1v1h-1zM496 206h1v1h-1zM496 352h1v3h-1zM1150 321h1v1h-1zM1150 519h1v3h-1zM1032 302h1v2h-1zM1032 502h1v1h-1zM360 281h1v1h-1zM1029 295h1v2h-1zM182 199h1v2h-1zM182 395h1v3h-1zM1241 417h1v2h-1zM1241 560h1v1h-1zM267 210h1v2h-1zM267 424h1v2h-1zM1198 326h1v2h-1zM1198 455h1v1h-1zM1151 522h1v2h-1zM507 51h1v1h-1zM507 192h1v1h-1zM507 328h1v2h-1zM567 243h1v1h-1zM999 248h1v2h-1zM999 379h1v1h-1zM1256 437h1v2h-1zM1354 450h1v1h-1zM456 122h1v2h-1zM456 276h1v1h-1zM456 430h1v1h-1zM57 234h1v1h-1zM196 222h1v1h-1zM196 429h1v1h-1zM619 265h1v2h-1zM973 206h1v1h-1zM973 351h1v1h-1zM973 493h1v1h-1zM785 155h1v1h-1zM688 127h1v3h-1zM688 222h1v1h-1zM1021 281h1v2h-1zM1148 323h1v1h-1zM1148 515h1v2h-1zM263 195h1v4h-1zM263 311h1v1h-1zM263 430h1v1h-1zM248 144h1v2h-1zM248 295h1v1h-1zM1382 410h1v2h-1zM388 225h1v2h-1zM388 327h1v1h-1zM473 76h1v2h-1zM473 248h1v2h-1zM473 413h1v1h-1zM715 175h1v1h-1zM716 176h1v2h-1zM1418 316h1v2h-1zM1418 448h1v1h-1zM719 180h1v2h-1zM680 109h1v2h-1zM680 213h1v1h-1zM1202 334h1v2h-1zM911 256h1v1h-1zM911 388h1v3h-1zM1205 340h1v2h-1zM1205 461h1v1h-1zM104 179h1v3h-1zM318 287h1v2h-1zM777 164h1v1h-1zM1398 366h1v3h-1zM1398 471h1v1h-1zM1398 568h1v1h-1zM995 241h1v2h-1zM995 374h1v1h-1zM995 508h1v1h-1zM1223 371h1v1h-1zM1223 475h1v1h-1zM1226 376h1v3h-1zM294 401h1v1h-1zM1399 362h1v4h-1zM1399 470h1v1h-1zM1399 569h1v1h-1zM768 177h1v1h-1zM1025 288h1v2h-1zM1025 507h1v1h-1zM1381 412h1v1h-1zM1031 299h1v3h-1zM1031 503h1v1h-1zM10 246h1v1h-1zM553 265h1v1h-1zM760 186h1v1h-1zM181 198h1v1h-1zM181 392h1v3h-1zM1189 448h1v1h-1zM591 233h1v1h-1zM0 174h1v1h-1zM0 255h1v1h-1zM1038 315h1v1h-1zM1038 495h1v1h-1zM1257 439h1v1h-1zM351 288h1v1h-1zM863 319h1v1h-1zM1397 369h1v4h-1zM1397 472h1v1h-1zM1397 567h1v1h-1zM24 158h1v1h-1zM1160 541h1v2h-1zM219 66h1v1h-1zM219 253h1v1h-1zM1008 264h1v2h-1zM1008 388h1v1h-1zM241 128h1v4h-1zM241 284h1v2h-1zM1019 279h1v1h-1zM290 266h1v1h-1zM290 398h1v1h-1zM74 136h1v1h-1zM74 223h1v1h-1zM198 24h1v1h-1zM198 225h1v1h-1zM198 431h1v1h-1zM434 167h1v1h-1zM434 299h1v1h-1zM1023 285h1v1h-1zM1405 350h1v2h-1zM1405 463h1v1h-1zM178 193h1v1h-1zM178 383h1v3h-1zM975 208h1v1h-1zM975 353h1v1h-1zM975 495h1v1h-1zM556 41h1v1h-1zM556 261h1v1h-1zM717 178h1v1h-1zM903 131h1v1h-1zM903 248h1v1h-1zM903 367h1v2h-1zM145 149h1v1h-1zM145 281h1v2h-1zM976 209h1v1h-1zM976 496h1v1h-1zM718 179h1v1h-1zM1142 506h1v1h-1zM910 255h1v1h-1zM910 385h1v3h-1zM319 289h1v2h-1zM418 187h1v2h-1zM517 179h1v2h-1zM517 309h1v2h-1zM552 266h1v2h-1zM398 209h1v2h-1zM500 58h1v1h-1zM500 200h1v1h-1zM500 342h1v2h-1zM598 239h1v1h-1zM652 67h1v1h-1zM652 184h1v1h-1zM1356 448h1v1h-1zM982 217h1v2h-1zM982 359h1v1h-1zM674 97h1v2h-1zM674 206h1v1h-1zM920 267h1v1h-1zM920 414h1v3h-1zM531 163h1v1h-1zM630 48h1v1h-1zM630 166h1v1h-1zM630 285h1v1h-1zM1170 558h1v2h-1zM405 203h1v1h-1zM631 49h1v1h-1zM631 167h1v1h-1zM631 286h1v1h-1zM1196 323h1v2h-1zM572 235h1v2h-1zM421 183h1v1h-1zM93 201h1v1h-1zM397 211h1v1h-1zM397 320h1v1h-1zM1401 358h1v2h-1zM1401 468h1v1h-1zM944 147h1v2h-1zM944 309h1v1h-1zM944 469h1v1h-1zM51 240h1v1h-1zM523 171h1v1h-1zM523 297h1v2h-1zM480 66h1v1h-1zM480 234h1v2h-1zM480 400h1v2h-1zM127 55h1v2h-1zM127 131h1v1h-1zM127 206h1v3h-1zM1006 261h1v1h-1zM499 59h1v1h-1zM499 201h1v2h-1zM499 344h1v2h-1zM412 196h1v1h-1zM1007 262h1v2h-1zM1159 539h1v2h-1zM1162 544h1v2h-1zM905 250h1v1h-1zM905 372h1v3h-1zM119 64h1v1h-1zM119 125h1v1h-1zM119 187h1v2h-1zM235 100h1v3h-1zM235 275h1v2h-1zM1176 569h1v1h-1zM1140 503h1v1h-1zM1111 476h1v1h-1zM1231 392h1v3h-1zM1231 570h1v2h-1zM926 123h1v1h-1zM926 277h1v2h-1zM926 430h1v3h-1zM1144 509h1v1h-1zM511 187h1v1h-1zM511 321h1v2h-1zM204 36h1v2h-1zM204 234h1v1h-1zM1411 335h1v3h-1zM1411 456h1v1h-1zM566 244h1v2h-1zM778 163h1v1h-1zM1217 361h1v2h-1zM1217 470h1v1h-1zM654 69h1v1h-1zM612 251h1v2h-1zM615 257h1v2h-1zM562 251h1v2h-1zM789 150h1v1h-1zM655 70h1v2h-1zM1386 405h1v2h-1zM56 235h1v1h-1zM784 156h1v1h-1zM669 89h1v1h-1zM669 200h1v1h-1zM1183 443h1v1h-1zM1183 575h1v1h-1zM970 202h1v2h-1zM970 348h1v1h-1zM673 95h1v2h-1zM673 205h1v1h-1zM781 159h1v1h-1zM890 331h1v2h-1zM1377 418h1v1h-1zM776 165h1v1h-1zM761 185h1v1h-1zM565 48h1v1h-1zM565 246h1v2h-1zM221 68h1v2h-1zM221 255h1v1h-1zM221 445h1v2h-1zM561 45h1v1h-1zM561 253h1v1h-1zM1385 407h1v1h-1zM639 56h1v1h-1zM639 174h1v1h-1zM639 294h1v1h-1zM1001 251h1v2h-1zM1001 381h1v1h-1zM697 154h1v3h-1zM697 232h1v1h-1zM697 312h1v1h-1zM482 63h1v1h-1zM482 230h1v2h-1zM482 396h1v2h-1zM1113 478h1v1h-1zM980 213h1v2h-1zM980 357h1v1h-1zM557 259h1v2h-1zM1380 413h1v1h-1zM722 184h1v2h-1zM885 327h1v1h-1zM184 203h1v1h-1zM184 401h1v4h-1zM370 270h1v2h-1zM370 410h1v2h-1zM1153 319h1v1h-1zM1153 527h1v2h-1zM1243 421h1v2h-1zM429 173h1v1h-1zM862 320h1v1h-1zM656 72h1v1h-1zM656 187h1v1h-1zM656 304h1v1h-1zM614 255h1v2h-1zM957 176h1v2h-1zM957 328h1v2h-1zM957 481h1v1h-1zM426 176h1v1h-1zM194 219h1v1h-1zM194 426h1v2h-1zM73 137h1v1h-1zM279 242h1v2h-1zM279 409h1v1h-1zM1185 313h1v1h-1zM972 205h1v1h-1zM972 350h1v1h-1zM972 492h1v1h-1zM701 236h1v2h-1zM701 315h1v1h-1zM286 257h1v3h-1zM286 402h1v1h-1zM107 171h1v1h-1zM1242 419h1v2h-1zM1242 559h1v1h-1zM121 191h1v2h-1zM508 50h1v1h-1zM508 191h1v1h-1zM508 326h1v2h-1zM90 203h1v1h-1zM1207 344h1v2h-1zM417 189h1v1h-1zM516 181h1v1h-1zM516 311h1v2h-1zM529 165h1v1h-1zM529 285h1v2h-1zM1360 442h1v2h-1zM1192 450h1v1h-1zM152 156h1v1h-1zM152 298h1v2h-1zM916 262h1v1h-1zM916 402h1v3h-1zM1355 449h1v1h-1zM82 212h1v1h-1zM978 211h1v1h-1zM978 355h1v1h-1zM978 498h1v1h-1zM1225 374h1v2h-1zM1225 477h1v1h-1zM571 237h1v1h-1zM1400 360h1v2h-1zM1400 469h1v1h-1zM1400 570h1v1h-1zM794 143h1v1h-1zM416 190h1v2h-1zM1187 446h1v1h-1zM1213 355h1v1h-1zM1213 467h1v1h-1zM1152 524h1v3h-1zM1245 424h1v1h-1zM658 74h1v1h-1zM658 189h1v1h-1zM790 148h1v2h-1zM364 278h1v1h-1zM996 243h1v2h-1zM996 375h1v1h-1zM109 173h1v2h-1zM14 165h1v1h-1zM974 207h1v1h-1zM974 352h1v1h-1zM974 494h1v1h-1zM681 111h1v2h-1zM681 214h1v1h-1zM490 215h1v1h-1zM490 372h1v3h-1zM1072 342h1v1h-1zM684 117h1v2h-1zM684 217h1v1h-1zM1206 342h1v2h-1zM1206 462h1v1h-1zM8 169h1v1h-1zM8 248h1v1h-1zM154 158h1v1h-1zM154 302h1v2h-1zM793 144h1v2h-1zM1161 312h1v1h-1zM1161 543h1v1h-1zM769 175h1v2h-1zM769 318h1v1h-1zM788 151h1v1h-1zM399 208h1v1h-1zM1219 364h1v2h-1zM1219 472h1v1h-1zM1215 358h1v1h-1zM84 209h1v2h-1zM161 164h1v1h-1zM1258 440h1v1h-1zM1258 552h1v1h-1zM859 322h1v1h-1zM79 132h1v1h-1zM79 216h1v1h-1zM1009 266h1v2h-1zM1262 446h1v2h-1zM635 171h1v1h-1zM635 290h1v1h-1zM998 246h1v2h-1zM998 378h1v1h-1zM1027 291h1v2h-1zM111 176h1v1h-1zM1365 436h1v1h-1zM764 183h1v1h-1zM493 210h1v2h-1zM493 362h1v3h-1zM682 113h1v2h-1zM682 215h1v1h-1zM1204 338h1v2h-1zM1204 460h1v1h-1zM320 291h1v2h-1zM433 168h1v1h-1zM446 142h1v2h-1zM446 289h1v1h-1zM441 152h1v2h-1zM441 293h1v1h-1zM226 75h1v2h-1zM226 261h1v2h-1zM854 318h1v1h-1zM466 93h1v3h-1zM466 261h1v1h-1zM1371 428h1v1h-1zM855 319h1v1h-1zM98 196h1v1h-1zM1115 480h1v1h-1zM1174 566h1v2h-1zM1171 560h1v2h-1zM1404 352h1v2h-1zM1404 464h1v1h-1zM512 186h1v1h-1zM512 319h1v2h-1zM113 68h1v1h-1zM113 179h1v1h-1zM312 277h1v1h-1zM89 204h1v1h-1zM699 234h1v1h-1zM699 312h1v2h-1zM990 233h1v1h-1zM990 368h1v1h-1zM1359 444h1v1h-1zM528 287h1v2h-1zM1000 250h1v1h-1zM1000 380h1v1h-1zM1000 511h1v1h-1zM535 39h1v1h-1zM445 144h1v2h-1zM445 290h1v1h-1zM1260 443h1v1h-1zM1261 444h1v2h-1zM1264 449h1v2h-1zM409 200h1v1h-1zM1022 283h1v2h-1zM54 237h1v1h-1zM706 163h1v1h-1zM637 54h1v1h-1zM637 292h1v1h-1zM1011 270h1v1h-1zM1011 390h1v1h-1zM570 51h1v1h-1zM570 238h1v1h-1zM710 168h1v2h-1zM720 182h1v1h-1zM308 274h1v1h-1zM721 183h1v1h-1zM759 187h1v1h-1zM1117 482h1v1h-1zM1118 483h1v1h-1zM1313 542h1v1h-1zM7 249h1v1h-1zM1252 432h1v1h-1zM546 275h1v1h-1zM348 290h1v1h-1zM458 118h1v2h-1zM458 273h1v1h-1zM458 427h1v1h-1zM1370 429h1v1h-1zM1124 489h1v1h-1zM977 210h1v1h-1zM977 497h1v1h-1zM115 181h1v1h-1zM712 171h1v1h-1zM981 215h1v2h-1zM981 358h1v1h-1zM1146 512h1v1h-1zM723 186h1v1h-1zM765 182h1v1h-1zM765 315h1v1h-1zM886 328h1v1h-1zM88 205h1v1h-1zM396 212h1v1h-1zM396 321h1v1h-1zM1244 423h1v1h-1zM83 211h1v1h-1zM1353 451h1v1h-1zM411 197h1v1h-1zM457 120h1v2h-1zM457 274h1v2h-1zM457 428h1v2h-1zM703 161h1v1h-1zM703 239h1v1h-1zM703 318h1v1h-1zM1364 437h1v1h-1zM1120 485h1v1h-1zM402 205h1v1h-1zM610 248h1v1h-1zM414 193h1v1h-1zM156 305h1v2h-1zM641 176h1v1h-1zM642 58h1v1h-1zM642 177h1v1h-1zM97 197h1v1h-1zM979 212h1v1h-1zM979 356h1v1h-1zM55 236h1v1h-1zM94 200h1v1h-1zM775 166h1v1h-1zM1246 425h1v1h-1zM774 167h1v2h-1zM774 322h1v1h-1zM858 321h1v1h-1zM704 240h1v1h-1zM155 304h1v1h-1zM21 160h1v1h-1zM15 242h1v1h-1zM1114 479h1v1h-1zM1173 564h1v2h-1zM72 138h1v1h-1zM596 237h1v1h-1zM1220 366h1v1h-1zM1263 448h1v1h-1zM295 402h1v1h-1zM96 198h1v1h-1zM87 206h1v1h-1zM415 192h1v1h-1zM1368 432h1v1h-1zM301 269h1v1h-1zM1116 481h1v1h-1zM1250 430h1v1h-1zM1 254h1v1h-1zM59 232h1v1h-1zM1122 487h1v1h-1zM1181 573h1v1h-1zM1026 290h1v1h-1zM1123 488h1v1h-1zM782 158h1v1h-1zM648 63h1v1h-1z"/>
<rect x="0" y="270" width="1645" height="1" fill="#FF0000"/>
<rect x="0" y="295" width="1645" height="1" fill="#FF0000"/>
<rect x="0" y="322" width="1645" height="1" fill="#C0C0C0"/>
<rect x="0" y="329" width="1645" height="1" fill="#32CD32"/>
<rect x="0" y="350" width="1645" height="1" fill="#0000FF"/>
<rect x="0" y="374" width="1645" height="1" fill="#0000FF"/>
<path fill="#000" d="M2 130h1v19h-1zM0 132h5v3h-5zM10 108h1v46h-1zM8 119h5v20h-5zM18 101h1v23h-1zM16 102h5v19h-5zM26 80h1v31h-1zM24 85h5v12h-5zM34 75h1v23h-1zM32 80h5v15h-5zM42 78h1v27h-1zM40 82h5v14h-5zM50 80h1v18h-1zM48 84h5v11h-5zM58 106h1v35h-1zM56 125h5v9h-5zM66 136h1v35h-1zM64 136h5v27h-5zM74 90h1v56h-1zM72 95h5v46h-5zM82 85h1v25h-1zM80 88h5v10h-5zM90 125h1v40h-1zM88 125h5v36h-5zM98 141h1v37h-1zM96 143h5v20h-5zM106 130h1v41h-1zM104 141h5v8h-5zM114 146h1v60h-1zM112 148h5v42h-5zM122 194h1v42h-1zM120 205h5v10h-5zM130 211h1v41h-1zM128 213h5v31h-5zM138 241h1v74h-1zM136 250h5v64h-5zM146 293h1v27h-1zM144 296h5v17h-5zM154 273h1v56h-1zM152 283h5v13h-5zM162 259h1v35h-1zM160 265h5v20h-5zM170 287h1v120h-1zM168 295h5v99h-5zM178 363h1v35h-1zM176 375h5v22h-5zM186 359h1v56h-1zM184 383h5v8h-5zM194 348h1v52h-1zM192 359h5v26h-5zM202 277h1v61h-1zM200 322h5v13h-5zM210 313h1v33h-1zM208 314h5v19h-5zM218 303h1v43h-1zM216 320h5v16h-5zM226 315h1v64h-1zM224 322h5v40h-5zM234 317h1v66h-1zM232 349h5v34h-5zM242 335h1v35h-1zM240 349h5v12h-5zM250 300h1v64h-1zM248 317h5v41h-5zM258 297h1v37h-1zM256 315h5v9h-5zM266 328h1v57h-1zM264 341h5v7h-5zM274 293h1v51h-1zM272 314h5v24h-5zM282 308h1v38h-1zM280 329h5v4h-5zM290 300h1v30h-1zM288 313h5v16h-5zM298 328h1v78h-1zM296 338h5v52h-5zM306 373h1v29h-1zM304 385h5v3h-5zM314 368h1v64h-1zM312 370h5v33h-5zM322 360h1v27h-1zM320 373h5v3h-5zM330 356h1v62h-1zM328 356h5v37h-5zM338 371h1v33h-1zM336 389h5v7h-5zM346 308h1v46h-1zM344 316h5v38h-5zM354 287h1v37h-1zM352 299h5v22h-5zM362 250h1v59h-1zM360 264h5v40h-5zM370 271h1v36h-1zM368 272h5v33h-5zM378 203h1v50h-1zM376 204h5v49h-5zM386 197h1v24h-1zM384 203h5v10h-5zM394 230h1v38h-1zM392 245h5v18h-5zM402 240h1v34h-1zM400 246h5v16h-5zM408 254h5v1h-5zM418 219h1v49h-1zM416 229h5v3h-5zM426 203h1v30h-1zM424 207h5v24h-5zM434 190h1v48h-1zM432 195h5v28h-5zM442 186h1v53h-1zM440 190h5v34h-5zM450 141h1v48h-1zM448 156h5v25h-5zM458 140h1v20h-1zM456 145h5v13h-5zM466 89h1v45h-1zM464 98h5v23h-5zM474 89h1v25h-1zM472 93h5v7h-5zM482 84h1v28h-1zM480 99h5v9h-5zM490 109h1v30h-1zM488 110h5v9h-5zM498 91h1v30h-1zM496 96h5v7h-5zM506 95h1v22h-1zM504 99h5v4h-5zM514 88h1v42h-1zM512 97h5v19h-5zM522 89h1v16h-1zM520 92h5v4h-5zM530 80h1v36h-1zM528 83h5v27h-5zM538 106h1v23h-1zM536 109h5v1h-5zM546 143h1v38h-1zM544 148h5v23h-5zM554 165h1v16h-1zM552 169h5v3h-5zM562 154h1v35h-1zM560 174h5v4h-5zM570 165h1v31h-1zM568 177h5v17h-5zM578 185h1v31h-1zM576 185h5v11h-5zM586 190h1v21h-1zM584 197h5v11h-5zM594 209h1v51h-1zM592 212h5v31h-5zM602 229h1v15h-1zM600 235h5v9h-5zM610 165h1v54h-1zM608 184h5v26h-5zM618 208h1v42h-1zM616 208h5v41h-5zM626 228h1v54h-1zM624 259h5v16h-5zM634 245h1v35h-1zM632 247h5v29h-5zM642 222h1v32h-1zM640 233h5v11h-5zM650 217h1v34h-1zM648 223h5v21h-5zM658 246h1v40h-1zM656 255h5v6h-5zM666 253h1v41h-1zM664 255h5v12h-5zM674 271h1v30h-1zM672 285h5v8h-5zM682 275h1v20h-1zM680 284h5v4h-5zM690 252h1v45h-1zM688 270h5v18h-5zM698 272h1v17h-1zM696 279h5v10h-5zM706 272h1v54h-1zM704 290h5v30h-5zM714 244h1v80h-1zM712 246h5v74h-5zM722 233h1v48h-1zM720 259h5v15h-5zM730 206h1v59h-1zM728 222h5v41h-5zM738 178h1v38h-1zM736 184h5v27h-5zM746 202h1v23h-1zM744 207h5v4h-5zM754 190h1v35h-1zM752 196h5v19h-5zM762 194h1v24h-1zM760 198h5v17h-5zM770 160h1v42h-1zM768 162h5v38h-5zM778 149h1v21h-1zM776 162h5v2h-5zM786 164h1v22h-1zM784 172h5v4h-5zM794 163h1v18h-1zM792 164h5v11h-5zM802 199h1v25h-1zM800 200h5v13h-5zM810 204h1v18h-1zM808 207h5v6h-5zM818 241h1v38h-1zM816 258h5v13h-5zM826 243h1v31h-1zM824 250h5v22h-5zM834 236h1v25h-1zM832 250h5v5h-5zM842 252h1v18h-1zM840 255h5v5h-5zM850 276h1v27h-1zM848 290h5v5h-5zM858 287h1v22h-1zM856 290h5v18h-5zM866 288h1v24h-1zM864 299h5v7h-5zM874 268h1v35h-1zM872 291h5v11h-5zM882 285h1v30h-1zM880 288h5v3h-5zM890 280h1v15h-1zM888 283h5v6h-5zM898 319h1v44h-1zM896 319h5v41h-5zM906 359h1v25h-1zM904 359h5v22h-5zM914 366h1v41h-1zM912 393h5v6h-5zM922 394h1v27h-1zM920 399h5v21h-5zM930 403h1v52h-1zM928 406h5v39h-5zM938 442h1v62h-1zM936 446h5v9h-5zM946 405h1v54h-1zM944 412h5v39h-5zM954 401h1v44h-1zM952 409h5v30h-5zM962 412h1v46h-1zM960 423h5v31h-5zM970 410h1v24h-1zM968 418h5v7h-5zM978 427h1v37h-1zM976 433h5v4h-5zM986 404h1v38h-1zM984 412h5v26h-5zM994 435h1v37h-1zM992 454h5v10h-5zM1002 450h1v28h-1zM1000 454h5v20h-5zM1010 415h1v36h-1zM1008 423h5v5h-5zM1018 380h1v46h-1zM1016 382h5v44h-5zM1026 366h1v31h-1zM1024 371h5v20h-5zM1034 378h1v16h-1zM1032 383h5v7h-5zM1042 339h1v24h-1zM1040 355h5v7h-5zM1050 345h1v19h-1zM1048 356h5v7h-5zM1058 354h1v34h-1zM1056 364h5v20h-5zM1066 365h1v31h-1zM1064 366h5v22h-5zM1074 331h1v33h-1zM1072 352h5v5h-5zM1082 349h1v44h-1zM1080 352h5v30h-5zM1090 407h1v29h-1zM1088 426h5v4h-5zM1098 426h1v18h-1zM1096 430h5v8h-5zM1106 417h1v27h-1zM1104 424h5v3h-5zM1114 427h1v48h-1zM1112 427h5v38h-5zM1122 467h1v33h-1zM1120 479h5v7h-5zM1130 446h1v39h-1zM1128 453h5v32h-5zM1138 443h1v55h-1zM1136 455h5v41h-5zM1146 477h1v25h-1zM1144 493h5v7h-5zM1154 494h1v44h-1zM1152 503h5v33h-5zM1162 522h1v42h-1zM1160 536h5v12h-5zM1170 528h1v25h-1zM1168 533h5v8h-5zM1178 506h1v32h-1zM1176 531h5v4h-5zM1186 485h1v31h-1zM1184 489h5v23h-5zM1194 501h1v20h-1zM1192 505h5v7h-5zM1202 483h1v32h-1zM1200 493h5v6h-5zM1210 486h1v16h-1zM1208 490h5v9h-5zM1218 463h1v30h-1zM1216 471h5v14h-5zM1226 472h1v32h-1zM1224 475h5v12h-5zM1234 467h1v25h-1zM1232 469h5v18h-5zM1242 477h1v34h-1zM1240 481h5v27h-5zM1250 503h1v16h-1zM1248 507h5v4h-5zM1258 485h1v29h-1zM1256 499h5v9h-5zM1266 494h1v29h-1zM1264 499h5v1h-5zM1274 436h1v32h-1zM1272 454h5v8h-5zM1282 433h1v57h-1zM1280 453h5v34h-5zM1290 480h1v15h-1zM1288 482h5v5h-5zM1298 458h1v42h-1zM1296 468h5v22h-5zM1306 468h1v27h-1zM1304 478h5v11h-5zM1314 474h1v44h-1zM1312 485h5v20h-5zM1322 507h1v30h-1zM1320 507h5v25h-5zM1330 512h1v45h-1zM1328 533h5v10h-5zM1338 506h1v46h-1zM1336 519h5v26h-5zM1346 464h1v35h-1zM1344 473h5v10h-5zM1354 449h1v26h-1zM1352 455h5v18h-5zM1362 418h1v46h-1zM1360 426h5v25h-5zM1370 411h1v23h-1zM1368 424h5v4h-5zM1378 403h1v45h-1zM1376 407h5v28h-5zM1386 407h1v36h-1zM1384 408h5v16h-5zM1394 351h1v40h-1zM1392 354h5v31h-5zM1402 330h1v26h-1zM1400 340h5v16h-5zM1410 310h1v18h-1zM1408 311h5v15h-5zM1418 318h1v26h-1zM1416 322h5v3h-5z"/>
<path fill="#fff" d="M9 120h3v18h-3zM17 103h3v17h-3zM33 81h3v13h-3zM49 85h3v9h-3zM73 96h3v44h-3zM97 144h3v18h-3zM145 297h3v15h-3zM153 284h3v11h-3zM161 266h3v18h-3zM177 376h3v20h-3zM185 384h3v6h-3zM193 360h3v24h-3zM209 315h3v17h-3zM217 321h3v14h-3zM233 350h3v32h-3zM249 318h3v39h-3zM265 342h3v5h-3zM273 315h3v22h-3zM281 330h3v2h-3zM289 314h3v14h-3zM313 371h3v31h-3zM337 390h3v5h-3zM345 317h3v36h-3zM353 300h3v20h-3zM369 273h3v31h-3zM377 205h3v47h-3zM393 246h3v16h-3zM425 208h3v22h-3zM441 191h3v32h-3zM449 157h3v23h-3zM457 146h3v11h-3zM465 99h3v21h-3zM473 94h3v5h-3zM505 100h3v2h-3zM513 98h3v17h-3zM601 236h3v7h-3zM633 248h3v27h-3zM649 224h3v19h-3zM657 256h3v4h-3zM673 286h3v6h-3zM681 285h3v2h-3zM697 280h3v8h-3zM713 247h3v72h-3zM721 260h3v13h-3zM729 223h3v39h-3zM745 208h3v2h-3zM761 199h3v15h-3zM769 163h3v36h-3zM793 165h3v9h-3zM809 208h3v4h-3zM825 251h3v20h-3zM849 291h3v3h-3zM865 300h3v5h-3zM873 292h3v9h-3zM881 289h3v1h-3zM889 284h3v4h-3zM913 394h3v4h-3zM945 413h3v37h-3zM961 424h3v29h-3zM969 419h3v5h-3zM985 413h3v24h-3zM993 455h3v8h-3zM1017 383h3v42h-3zM1033 384h3v5h-3zM1041 356h3v5h-3zM1057 365h3v18h-3zM1073 353h3v3h-3zM1129 454h3v30h-3zM1169 534h3v6h-3zM1177 532h3v2h-3zM1193 506h3v5h-3zM1209 491h3v7h-3zM1233 470h3v16h-3zM1257 500h3v7h-3zM1289 483h3v3h-3zM1305 479h3v9h-3zM1337 520h3v24h-3zM1345 474h3v8h-3zM1353 456h3v16h-3zM1361 427h3v23h-3zM1377 408h3v26h-3zM1393 355h3v29h-3zM1401 341h3v14h-3zM1417 323h3v1h-3z"/>
</g>
<g shape-rendering="crispEdges">
<path fill="#C0C0C0" d="M2 653h1v6h-1zM10 650h1v9h-1zM18 646h1v13h-1zM26 642h1v17h-1zM34 639h1v20h-1zM42 637h1v22h-1zM50 635h1v24h-1zM58 639h1v20h-1zM66 645h1v14h-1zM74 644h1v15h-1zM82 642h1v17h-1zM90 649h1v10h-1zM98 651h1v8h-1zM106 654h1v5h-1zM114 657h1v1h-1zM122 658h1v10h-1zM130 658h1v19h-1zM138 658h1v34h-1zM146 658h1v43h-1zM154 658h1v48h-1zM162 658h1v49h-1zM170 658h1v64h-1zM178 658h1v73h-1zM186 658h1v80h-1zM194 658h1v82h-1zM202 658h1v80h-1zM210 658h1v75h-1zM218 658h1v71h-1zM226 658h1v72h-1zM234 658h1v69h-1zM242 658h1v69h-1zM250 658h1v63h-1zM258 658h1v58h-1zM266 658h1v55h-1zM274 658h1v49h-1zM282 658h1v47h-1zM290 658h1v42h-1zM298 658h1v46h-1zM306 658h1v47h-1zM314 658h1v48h-1zM322 658h1v47h-1zM330 658h1v48h-1zM338 658h1v46h-1zM346 658h1v39h-1zM354 658h1v31h-1zM362 658h1v24h-1zM370 658h1v15h-1zM378 659h1v1h-1zM386 649h1v10h-1zM394 644h1v15h-1zM402 642h1v17h-1zM410 640h1v19h-1zM418 637h1v22h-1zM426 631h1v28h-1zM434 629h1v30h-1zM442 624h1v35h-1zM450 617h1v42h-1zM458 611h1v48h-1zM466 602h1v57h-1zM474 594h1v65h-1zM482 591h1v68h-1zM490 590h1v69h-1zM498 589h1v70h-1zM506 588h1v71h-1zM514 588h1v71h-1zM522 589h1v70h-1zM530 592h1v67h-1zM538 595h1v64h-1zM546 604h1v55h-1zM554 613h1v46h-1zM562 620h1v39h-1zM570 628h1v31h-1zM578 635h1v24h-1zM586 642h1v17h-1zM594 652h1v7h-1zM602 659h1v1h-1zM610 659h1v1h-1zM618 658h1v8h-1zM626 658h1v16h-1zM634 658h1v18h-1zM642 658h1v19h-1zM650 658h1v19h-1zM658 658h1v21h-1zM666 658h1v24h-1zM674 658h1v28h-1zM682 658h1v31h-1zM690 658h1v33h-1zM698 658h1v33h-1zM706 658h1v36h-1zM714 658h1v31h-1zM722 658h1v28h-1zM730 658h1v23h-1zM738 658h1v16h-1zM746 658h1v10h-1zM754 658h1v7h-1zM762 659h1v1h-1zM770 654h1v5h-1zM778 647h1v12h-1zM786 644h1v15h-1zM794 641h1v18h-1zM802 643h1v16h-1zM810 645h1v14h-1zM818 653h1v6h-1zM826 657h1v1h-1zM834 658h1v3h-1zM842 658h1v6h-1zM850 658h1v12h-1zM858 658h1v19h-1zM866 658h1v23h-1zM874 658h1v25h-1zM882 658h1v26h-1zM890 658h1v25h-1zM898 658h1v33h-1zM906 658h1v41h-1zM914 658h1v49h-1zM922 658h1v56h-1zM930 658h1v65h-1zM938 658h1v72h-1zM946 658h1v71h-1zM954 658h1v74h-1zM962 658h1v73h-1zM970 658h1v71h-1zM978 658h1v69h-1zM986 658h1v66h-1zM994 658h1v67h-1zM1002 658h1v68h-1zM1010 658h1v65h-1zM1018 658h1v56h-1zM1026 658h1v49h-1zM1034 658h1v43h-1zM1042 658h1v34h-1zM1050 658h1v28h-1zM1058 658h1v22h-1zM1066 658h1v21h-1zM1074 658h1v15h-1zM1082 658h1v14h-1zM1090 658h1v18h-1zM1098 658h1v22h-1zM1106 658h1v23h-1zM1114 658h1v28h-1zM1122 658h1v34h-1zM1130 658h1v35h-1zM1138 658h1v40h-1zM1146 658h1v43h-1zM1154 658h1v50h-1zM1162 658h1v55h-1zM1170 658h1v58h-1zM1178 658h1v58h-1zM1186 658h1v56h-1zM1194 658h1v53h-1zM1202 658h1v51h-1zM1210 658h1v45h-1zM1218 658h1v41h-1zM1226 658h1v37h-1zM1234 658h1v32h-1zM1242 658h1v32h-1zM1250 658h1v31h-1zM1258 658h1v29h-1zM1266 658h1v28h-1zM1274 658h1v22h-1zM1282 658h1v19h-1zM1290 658h1v18h-1zM1298 658h1v16h-1zM1306 658h1v14h-1zM1314 658h1v15h-1zM1322 658h1v18h-1zM1330 658h1v21h-1zM1338 658h1v20h-1zM1346 658h1v14h-1zM1354 658h1v9h-1zM1362 659h1v1h-1zM1370 654h1v5h-1zM1378 649h1v10h-1zM1386 645h1v14h-1zM1394 637h1v22h-1zM1402 626h1v33h-1zM1410 617h1v42h-1zM1418 611h1v48h-1z"/>
<path fill="#FF0000" d="M287 718h2v1h-2zM964 718h2v1h-2zM121 649h2v1h-2zM825 649h3v1h-3zM831 649h3v1h-3zM765 678h2v1h-2zM1329 678h3v1h-3zM1107 681h3v1h-3zM1126 681h2v1h-2zM1311 681h2v1h-2zM310 710h3v1h-3zM1203 710h3v1h-3zM1209 710h3v1h-3zM1215 710h3v1h-3zM657 668h2v1h-2zM49 646h2v1h-2zM114 646h2v1h-2zM60 644h2v1h-2zM108 644h2v1h-2zM203 721h2v1h-2zM280 721h2v1h-2zM970 721h2v1h-2zM1156 692h2v1h-2zM771 675h2v1h-2zM892 675h2v1h-2zM1353 675h3v1h-3zM705 685h2v1h-2zM747 685h3v1h-3zM711 687h3v1h-3zM915 687h2v1h-2zM1089 687h2v1h-2zM31 654h2v1h-2zM634 654h2v1h-2zM1402 654h2v1h-2zM19 660h2v1h-2zM292 716h3v1h-3zM1042 716h2v1h-2zM885 672h2v1h-2zM262 728h3v1h-3zM993 728h3v1h-3zM999 728h3v1h-3zM1005 728h3v1h-3zM1011 728h2v1h-2zM162 680h2v1h-2zM687 680h3v1h-3zM759 680h3v1h-3zM903 680h2v1h-2zM1113 680h3v1h-3zM1317 680h2v1h-2zM717 688h3v1h-3zM735 688h3v1h-3zM1282 688h2v1h-2zM526 593h3v1h-3zM550 593h3v1h-3zM675 674h2v1h-2zM1359 674h3v1h-3zM1030 722h2v1h-2zM490 610h2v1h-2zM958 715h2v1h-2zM157 676h2v1h-2zM1347 676h3v1h-3zM214 726h3v1h-3zM268 726h2v1h-2zM981 726h3v1h-3zM1017 726h3v1h-3zM244 734h2v1h-2zM322 707h3v1h-3zM328 707h2v1h-2zM946 707h2v1h-2zM226 730h2v1h-2zM257 730h2v1h-2zM1275 691h2v1h-2zM778 670h2v1h-2zM304 712h2v1h-2zM54 645h3v1h-3zM359 701h2v1h-2zM1066 701h2v1h-2zM1174 701h2v1h-2zM208 724h2v1h-2zM976 724h2v1h-2zM563 598h2v1h-2zM1071 698h2v1h-2zM1168 698h2v1h-2zM1257 698h2v1h-2zM819 650h3v1h-3zM837 650h3v1h-3zM843 650h2v1h-2zM1197 709h3v1h-3zM1221 709h3v1h-3zM376 693h2v1h-2zM1078 693h2v1h-2zM1270 693h2v1h-2zM37 651h2v1h-2zM424 651h2v1h-2zM813 651h3v1h-3zM340 705h3v1h-3zM232 732h3v1h-3zM250 732h3v1h-3zM693 682h3v1h-3zM1102 682h2v1h-2zM1131 682h3v1h-3zM1305 682h2v1h-2zM66 643h3v1h-3zM102 643h3v1h-3zM436 643h2v1h-2zM802 655h2v1h-2zM855 655h2v1h-2zM742 686h2v1h-2zM1144 686h2v1h-2zM1287 686h3v1h-3zM25 657h2v1h-2zM79 641h2v1h-2zM84 641h3v1h-3zM90 641h3v1h-3zM1 671h2v1h-2zM663 671h2v1h-2zM1372 671h2v1h-2zM532 591h3v1h-3zM538 591h3v1h-3zM544 591h2v1h-2zM681 677h2v1h-2zM897 677h2v1h-2zM1335 677h3v1h-3zM1341 677h3v1h-3zM1023 725h2v1h-2zM317 708h2v1h-2zM1192 708h2v1h-2zM1227 708h3v1h-3zM72 642h3v1h-3zM96 642h3v1h-3zM467 625h2v1h-2zM13 663h2v1h-2zM699 684h3v1h-3zM1095 684h3v1h-3zM1138 684h2v1h-2zM1294 684h2v1h-2zM651 665h2v1h-2zM873 665h2v1h-2zM364 699h3v1h-3zM1252 699h2v1h-2zM346 704h3v1h-3zM1180 704h2v1h-2zM1240 704h2v1h-2zM220 727h2v1h-2zM987 727h3v1h-3zM514 597h3v1h-3zM352 703h3v1h-3zM669 673h3v1h-3zM1365 673h3v1h-3zM586 612h2v1h-2zM928 695h2v1h-2zM1162 695h2v1h-2zM238 733h3v1h-3zM126 652h2v1h-2zM808 652h2v1h-2zM461 628h2v1h-2zM334 706h3v1h-3zM1185 706h3v1h-3zM1234 706h2v1h-2zM520 595h2v1h-2zM557 595h2v1h-2zM921 690h2v1h-2zM1083 690h2v1h-2zM753 683h2v1h-2zM1299 683h3v1h-3zM646 662h2v1h-2zM868 662h2v1h-2zM723 689h3v1h-3zM729 689h2v1h-2zM1150 689h2v1h-2zM850 653h2v1h-2zM796 658h2v1h-2zM861 658h2v1h-2zM1377 669h2v1h-2zM1119 679h2v1h-2zM1323 679h2v1h-2zM1245 702h2v1h-2zM503 603h2v1h-2zM784 666h2v1h-2zM1384 666h2v1h-2zM496 607h2v1h-2zM449 635h2v1h-2zM298 714h2v1h-2zM569 601h2v1h-2zM508 600h2v1h-2zM43 648h2v1h-2zM1036 719h2v1h-2zM371 696h2v1h-2zM1263 696h2v1h-2zM275 723h2v1h-2zM478 618h2v1h-2zM430 647h2v1h-2zM1047 714h1v1h-1zM598 622h1v1h-1zM390 682h1v1h-1zM42 649h1v1h-1zM633 653h1v1h-1zM899 678h1v1h-1zM443 639h1v1h-1zM370 697h1v1h-1zM1379 668h1v1h-1zM1059 706h1v1h-1zM1408 649h1v1h-1zM420 655h1v1h-1zM1409 648h1v1h-1zM1414 644h1v1h-1zM849 652h1v1h-1zM426 650h1v1h-1zM640 658h1v1h-1zM574 603h1v1h-1zM286 719h1v1h-1zM615 638h1v1h-1zM378 692h1v1h-1zM963 717h1v1h-1zM150 669h1v1h-1zM167 685h1v1h-1zM419 656h1v1h-1zM605 630h1v1h-1zM1413 645h1v1h-1zM1396 659h1v1h-1zM599 623h1v2h-1zM879 668h1v1h-1zM1401 655h1v1h-1zM616 639h1v1h-1zM414 660h1v1h-1zM0 672h1v1h-1zM917 688h1v1h-1zM575 604h1v1h-1zM880 669h1v1h-1zM412 662h1v1h-1zM641 659h1v1h-1zM485 613h1v1h-1zM484 614h1v1h-1zM156 675h1v1h-1zM562 597h1v1h-1zM582 609h1v1h-1zM1239 705h1v1h-1zM1293 685h1v1h-1zM1025 724h1v1h-1zM1233 707h1v1h-1zM246 733h1v1h-1zM1269 694h1v1h-1zM474 621h1v1h-1zM300 713h1v1h-1zM875 666h1v1h-1zM184 703h1v1h-1zM466 626h1v1h-1zM881 670h1v1h-1zM18 661h1v1h-1zM164 681h1v1h-1zM1319 679h1v1h-1zM358 702h1v1h-1zM473 622h1v1h-1zM190 709h1v1h-1zM645 661h1v1h-1zM677 675h1v1h-1zM274 724h1v1h-1zM933 698h1v1h-1zM1060 705h1v1h-1zM659 669h1v1h-1zM1415 643h1v1h-1zM186 705h1v1h-1zM593 617h1v1h-1zM400 674h1v1h-1zM389 683h1v1h-1zM639 657h1v1h-1zM1013 727h1v1h-1zM1055 708h1v1h-1zM191 710h1v1h-1zM388 684h1v1h-1zM941 704h1v1h-1zM1173 700h1v1h-1zM580 607h1v1h-1zM1325 678h1v1h-1zM30 655h1v1h-1zM438 642h1v1h-1zM845 651h1v1h-1zM783 667h1v1h-1zM1054 709h1v1h-1zM413 661h1v1h-1zM197 716h1v1h-1zM1407 650h1v1h-1zM418 657h1v1h-1zM581 608h1v1h-1zM192 711h1v1h-1zM935 700h1v1h-1zM795 659h1v1h-1zM707 686h1v1h-1zM617 640h1v1h-1zM456 631h1v1h-1zM460 629h1v1h-1zM628 649h1v1h-1zM588 613h1v1h-1zM448 636h1v1h-1zM1395 660h1v1h-1zM1125 680h1v1h-1zM210 725h1v1h-1zM12 664h1v1h-1zM1383 667h1v1h-1zM256 731h1v1h-1zM576 605h1v1h-1zM1161 694h1v1h-1zM198 717h1v1h-1zM1191 707h1v1h-1zM957 714h1v1h-1zM1390 663h1v1h-1zM7 667h1v1h-1zM945 706h1v1h-1zM939 702h1v1h-1zM611 635h1v1h-1zM629 650h1v1h-1zM401 673h1v1h-1zM408 666h1v1h-1zM454 633h1v1h-1zM472 623h1v1h-1zM927 694h1v1h-1zM683 678h1v1h-1zM172 691h1v1h-1zM132 655h1v1h-1zM1029 723h1v1h-1zM867 661h1v1h-1zM24 658h1v1h-1zM623 645h1v1h-1zM406 668h1v1h-1zM407 667h1v1h-1zM396 676h1v1h-1zM110 645h1v1h-1zM934 699h1v1h-1zM139 660h1v1h-1zM1149 688h1v1h-1zM173 692h1v1h-1zM953 712h1v1h-1zM665 672h1v1h-1zM905 681h1v1h-1zM940 703h1v1h-1zM1277 690h1v1h-1zM394 678h1v1h-1zM395 677h1v1h-1zM767 677h1v1h-1zM140 661h1v1h-1zM330 706h1v1h-1zM196 715h1v1h-1zM1121 680h1v1h-1zM1155 691h1v1h-1zM228 731h1v1h-1zM128 653h1v1h-1zM1371 672h1v1h-1zM282 720h1v1h-1zM863 659h1v1h-1zM609 633h1v1h-1zM502 604h1v1h-1zM134 657h1v1h-1zM1179 703h1v1h-1zM627 648h1v1h-1zM432 646h1v1h-1zM791 661h1v1h-1zM1049 712h1v1h-1zM1053 710h1v1h-1zM316 709h1v1h-1zM1307 681h1v1h-1zM801 656h1v1h-1zM384 688h1v1h-1zM653 666h1v1h-1zM621 643h1v1h-1zM1073 697h1v1h-1zM1391 662h1v1h-1zM8 666h1v1h-1zM444 638h1v1h-1zM48 647h1v1h-1zM522 594h1v1h-1zM741 687h1v1h-1zM1065 702h1v1h-1zM951 710h1v1h-1zM455 632h1v1h-1zM909 683h1v1h-1zM382 690h1v1h-1zM1085 689h1v1h-1zM383 689h1v1h-1zM603 628h1v1h-1zM1143 685h1v1h-1zM6 668h1v1h-1zM923 691h1v1h-1zM1077 694h1v1h-1zM1389 664h1v1h-1zM610 634h1v1h-1zM116 647h1v1h-1zM144 663h1v1h-1zM138 659h1v1h-1zM887 673h1v1h-1zM807 653h1v1h-1zM1167 697h1v1h-1zM910 684h1v1h-1zM568 600h1v1h-1zM604 629h1v1h-1zM622 644h1v1h-1zM1313 680h1v1h-1zM1265 695h1v1h-1zM731 688h1v1h-1zM1091 686h1v1h-1zM145 664h1v1h-1zM222 728h1v1h-1zM1137 683h1v1h-1zM755 682h1v1h-1zM442 640h1v1h-1zM952 711h1v1h-1zM486 612h1v1h-1zM1259 697h1v1h-1zM594 618h1v1h-1zM857 656h1v1h-1zM133 656h1v1h-1zM1397 658h1v1h-1zM1247 701h1v1h-1zM178 697h1v1h-1zM270 725h1v1h-1zM911 685h1v1h-1zM174 693h1v1h-1zM151 670h1v1h-1zM480 617h1v1h-1zM168 686h1v1h-1zM969 720h1v1h-1zM146 665h1v1h-1zM1035 720h1v1h-1zM546 592h1v1h-1zM556 594h1v1h-1zM306 711h1v1h-1zM773 674h1v1h-1zM1041 717h1v1h-1zM492 609h1v1h-1zM1101 683h1v1h-1zM36 652h1v1h-1zM152 671h1v1h-1zM169 687h1v1h-1zM790 662h1v1h-1zM510 599h1v1h-1zM179 698h1v1h-1zM498 606h1v1h-1zM975 723h1v1h-1zM62 643h1v1h-1zM402 672h1v1h-1zM777 671h1v1h-1zM1048 713h1v1h-1zM185 704h1v1h-1zM1251 700h1v1h-1zM202 720h1v1h-1zM120 648h1v1h-1zM180 699h1v1h-1zM78 642h1v1h-1zM891 674h1v1h-1zM592 616h1v1h-1zM1281 689h1v1h-1zM789 663h1v1h-1zM1061 704h1v1h-1z"/>
</g>
<g shape-rendering="crispEdges">
<path fill="#C0C0C0" d="M1 786h3v1h-3zM7 786h3v1h-3zM13 786h3v1h-3zM19 786h3v1h-3zM25 786h3v1h-3zM31 786h3v1h-3zM37 786h3v1h-3zM43 786h3v1h-3zM49 786h3v1h-3zM55 786h3v1h-3zM61 786h3v1h-3zM67 786h3v1h-3zM73 786h3v1h-3zM79 786h3v1h-3zM85 786h3v1h-3zM91 786h3v1h-3zM97 786h3v1h-3zM103 786h3v1h-3zM109 786h3v1h-3zM115 786h3v1h-3zM121 786h3v1h-3zM127 786h3v1h-3zM133 786h3v1h-3zM139 786h3v1h-3zM145 786h3v1h-3zM151 786h3v1h-3zM157 786h3v1h-3zM163 786h3v1h-3zM169 786h3v1h-3zM175 786h3v1h-3zM181 786h3v1h-3zM187 786h3v1h-3zM193 786h3v1h-3zM199 786h3v1h-3zM205 786h3v1h-3zM211 786h3v1h-3zM217 786h3v1h-3zM223 786h3v1h-3zM229 786h3v1h-3zM235 786h3v1h-3zM241 786h3v1h-3zM247 786h3v1h-3zM253 786h3v1h-3zM259 786h3v1h-3zM265 786h3v1h-3zM271 786h3v1h-3zM277 786h3v1h-3zM283 786h3v1h-3zM289 786h3v1h-3zM295 786h3v1h-3zM301 786h3v1h-3zM307 786h3v1h-3zM313 786h3v1h-3zM319 786h3v1h-3zM325 786h3v1h-3zM331 786h3v1h-3zM337 786h3v1h-3zM343 786h3v1h-3zM349 786h3v1h-3zM355 786h3v1h-3zM361 786h3v1h-3zM367 786h3v1h-3zM373 786h3v1h-3zM379 786h3v1h-3zM385 786h3v1h-3zM391 786h3v1h-3zM397 786h3v1h-3zM403 786h3v1h-3zM409 786h3v1h-3zM415 786h3v1h-3zM421 786h3v1h-3zM427 786h3v1h-3zM433 786h3v1h-3zM439 786h3v1h-3zM445 786h3v1h-3zM451 786h3v1h-3zM457 786h3v1h-3zM463 786h3v1h-3zM469 786h3v1h-3zM475 786h3v1h-3zM481 786h3v1h-3zM487 786h3v1h-3zM493 786h3v1h-3zM499 786h3v1h-3zM505 786h3v1h-3zM511 786h3v1h-3zM517 786h3v1h-3zM523 786h3v1h-3zM529 786h3v1h-3zM535 786h3v1h-3zM541 786h3v1h-3zM547 786h3v1h-3zM553 786h3v1h-3zM559 786h3v1h-3zM565 786h3v1h-3zM571 786h3v1h-3zM577 786h3v1h-3zM583 786h3v1h-3zM589 786h3v1h-3zM595 786h3v1h-3zM601 786h3v1h-3zM607 786h3v1h-3zM613 786h3v1h-3zM619 786h3v1h-3zM625 786h3v1h-3zM631 786h3v1h-3zM637 786h3v1h-3zM643 786h3v1h-3zM649 786h3v1h-3zM655 786h3v1h-3zM661 786h3v1h-3zM667 786h3v1h-3zM673 786h3v1h-3zM679 786h3v1h-3zM685 786h3v1h-3zM691 786h3v1h-3zM697 786h3v1h-3zM703 786h3v1h-3zM709 786h3v1h-3zM715 786h3v1h-3zM721 786h3v1h-3zM727 786h3v1h-3zM733 786h3v1h-3zM739 786h3v1h-3zM745 786h3v1h-3zM751 786h3v1h-3zM757 786h3v1h-3zM763 786h3v1h-3zM769 786h3v1h-3zM775 786h3v1h-3zM781 786h3v1h-3zM787 786h3v1h-3zM793 786h3v1h-3zM799 786h3v1h-3zM805 786h3v1h-3zM811 786h3v1h-3zM817 786h3v1h-3zM823 786h3v1h-3zM829 786h3v1h-3zM835 786h3v1h-3zM841 786h3v1h-3zM847 786h3v1h-3zM853 786h3v1h-3zM859 786h3v1h-3zM865 786h3v1h-3zM871 786h3v1h-3zM877 786h3v1h-3zM883 786h3v1h-3zM889 786h3v1h-3zM895 786h3v1h-3zM901 786h3v1h-3zM907 786h3v1h-3zM913 786h3v1h-3zM919 786h3v1h-3zM925 786h3v1h-3zM931 786h3v1h-3zM937 786h3v1h-3zM943 786h3v1h-3zM949 786h3v1h-3zM955 786h3v1h-3zM961 786h3v1h-3zM967 786h3v1h-3zM973 786h3v1h-3zM979 786h3v1h-3zM985 786h3v1h-3zM991 786h3v1h-3zM997 786h3v1h-3zM1003 786h3v1h-3zM1009 786h3v1h-3zM1015 786h3v1h-3zM1021 786h3v1h-3zM1027 786h3v1h-3zM1033 786h3v1h-3zM1039 786h3v1h-3zM1045 786h3v1h-3zM1051 786h3v1h-3zM1057 786h3v1h-3zM1063 786h3v1h-3zM1069 786h3v1h-3zM1075 786h3v1h-3zM1081 786h3v1h-3zM1087 786h3v1h-3zM1093 786h3v1h-3zM1099 786h3v1h-3zM1105 786h3v1h-3zM1111 786h3v1h-3zM1117 786h3v1h-3zM1123 786h3v1h-3zM1129 786h3v1h-3zM1135 786h3v1h-3zM1141 786h3v1h-3zM1147 786h3v1h-3zM1153 786h3v1h-3zM1159 786h3v1h-3zM1165 786h3v1h-3zM1171 786h3v1h-3zM1177 786h3v1h-3zM1183 786h3v1h-3zM1189 786h3v1h-3zM1195 786h3v1h-3zM1201 786h3v1h-3zM1207 786h3v1h-3zM1213 786h3v1h-3zM1219 786h3v1h-3zM1225 786h3v1h-3zM1231 786h3v1h-3zM1237 786h3v1h-3zM1243 786h3v1h-3zM1249 786h3v1h-3zM1255 786h3v1h-3zM1261 786h3v1h-3zM1267 786h3v1h-3zM1273 786h3v1h-3zM1279 786h3v1h-3zM1285 786h3v1h-3zM1291 786h3v1h-3zM1297 786h3v1h-3zM1303 786h3v1h-3zM1309 786h3v1h-3zM1315 786h3v1h-3zM1321 786h3v1h-3zM1327 786h3v1h-3zM1333 786h3v1h-3zM1339 786h3v1h-3zM1345 786h3v1h-3zM1351 786h3v1h-3zM1357 786h3v1h-3zM1363 786h3v1h-3zM1369 786h3v1h-3zM1375 786h3v1h-3zM1381 786h3v1h-3zM1387 786h3v1h-3zM1393 786h3v1h-3zM1399 786h3v1h-3zM1405 786h3v1h-3zM1411 786h3v1h-3zM1417 786h3v1h-3zM1423 786h3v1h-3zM1429 786h3v1h-3zM1435 786h3v1h-3zM1441 786h3v1h-3zM1447 786h3v1h-3zM1453 786h3v1h-3zM1459 786h3v1h-3zM1465 786h3v1h-3zM1471 786h3v1h-3zM1477 786h3v1h-3zM1483 786h3v1h-3zM1489 786h3v1h-3zM1495 786h3v1h-3zM1501 786h3v1h-3zM1507 786h3v1h-3zM1513 786h3v1h-3zM1519 786h3v1h-3zM1525 786h3v1h-3zM1531 786h3v1h-3zM1537 786h3v1h-3zM1543 786h3v1h-3zM1549 786h3v1h-3zM1555 786h3v1h-3zM1561 786h3v1h-3zM1567 786h3v1h-3zM1573 786h3v1h-3zM1579 786h3v1h-3zM1585 786h3v1h-3zM1591 786h3v1h-3zM1597 786h3v1h-3zM1603 786h3v1h-3zM1609 786h3v1h-3zM1615 786h3v1h-3zM1621 786h3v1h-3zM1627 786h3v1h-3zM1633 786h3v1h-3zM1639 786h3v1h-3z"/>
<path fill="#C0C0C0" d="M1 837h3v1h-3zM7 837h3v1h-3zM13 837h3v1h-3zM19 837h3v1h-3zM25 837h3v1h-3zM31 837h3v1h-3zM37 837h3v1h-3zM43 837h3v1h-3zM49 837h3v1h-3zM55 837h3v1h-3zM61 837h3v1h-3zM67 837h3v1h-3zM73 837h3v1h-3zM79 837h3v1h-3zM85 837h3v1h-3zM91 837h3v1h-3zM97 837h3v1h-3zM103 837h3v1h-3zM109 837h3v1h-3zM115 837h3v1h-3zM121 837h3v1h-3zM127 837h3v1h-3zM133 837h3v1h-3zM139 837h3v1h-3zM145 837h3v1h-3zM151 837h3v1h-3zM157 837h3v1h-3zM163 837h3v1h-3zM169 837h3v1h-3zM175 837h3v1h-3zM181 837h3v1h-3zM187 837h3v1h-3zM193 837h3v1h-3zM199 837h3v1h-3zM205 837h3v1h-3zM211 837h3v1h-3zM217 837h3v1h-3zM223 837h3v1h-3zM229 837h3v1h-3zM235 837h3v1h-3zM241 837h3v1h-3zM247 837h3v1h-3zM253 837h3v1h-3zM259 837h3v1h-3zM265 837h3v1h-3zM271 837h3v1h-3zM277 837h3v1h-3zM283 837h3v1h-3zM289 837h3v1h-3zM295 837h3v1h-3zM301 837h3v1h-3zM307 837h3v1h-3zM313 837h3v1h-3zM319 837h3v1h-3zM325 837h3v1h-3zM331 837h3v1h-3zM337 837h3v1h-3zM343 837h3v1h-3zM349 837h3v1h-3zM355 837h3v1h-3zM361 837h3v1h-3zM367 837h3v1h-3zM373 837h3v1h-3zM379 837h3v1h-3zM385 837h3v1h-3zM391 837h3v1h-3zM397 837h3v1h-3zM403 837h3v1h-3zM409 837h3v1h-3zM415 837h3v1h-3zM421 837h3v1h-3zM427 837h3v1h-3zM433 837h3v1h-3zM439 837h3v1h-3zM445 837h3v1h-3zM451 837h3v1h-3zM457 837h3v1h-3zM463 837h3v1h-3zM469 837h3v1h-3zM475 837h3v1h-3zM481 837h3v1h-3zM487 837h3v1h-3zM493 837h3v1h-3zM499 837h3v1h-3zM505 837h3v1h-3zM511 837h3v1h-3zM517 837h3v1h-3zM523 837h3v1h-3zM529 837h3v1h-3zM535 837h3v1h-3zM541 837h3v1h-3zM547 837h3v1h-3zM553 837h3v1h-3zM559 837h3v1h-3zM565 837h3v1h-3zM571 837h3v1h-3zM577 837h3v1h-3zM583 837h3v1h-3zM589 837h3v1h-3zM595 837h3v1h-3zM601 837h3v1h-3zM607 837h3v1h-3zM613 837h3v1h-3zM619 837h3v1h-3zM625 837h3v1h-3zM631 837h3v1h-3zM637 837h3v1h-3zM643 837h3v1h-3zM649 837h3v1h-3zM655 837h3v1h-3zM661 837h3v1h-3zM667 837h3v1h-3zM673 837h3v1h-3zM679 837h3v1h-3zM685 837h3v1h-3zM691 837h3v1h-3zM697 837h3v1h-3zM703 837h3v1h-3zM709 837h3v1h-3zM715 837h3v1h-3zM721 837h3v1h-3zM727 837h3v1h-3zM733 837h3v1h-3zM739 837h3v1h-3zM745 837h3v1h-3zM751 837h3v1h-3zM757 837h3v1h-3zM763 837h3v1h-3zM769 837h3v1h-3zM775 837h3v1h-3zM781 837h3v1h-3zM787 837h3v1h-3zM793 837h3v1h-3zM799 837h3v1h-3zM805 837h3v1h-3zM811 837h3v1h-3zM817 837h3v1h-3zM823 837h3v1h-3zM829 837h3v1h-3zM835 837h3v1h-3zM841 837h3v1h-3zM847 837h3v1h-3zM853 837h3v1h-3zM859 837h3v1h-3zM865 837h3v1h-3zM871 837h3v1h-3zM877 837h3v1h-3zM883 837h3v1h-3zM889 837h3v1h-3zM895 837h3v1h-3zM901 837h3v1h-3zM907 837h3v1h-3zM913 837h3v1h-3zM919 837h3v1h-3zM925 837h3v1h-3zM931 837h3v1h-3zM937 837h3v1h-3zM943 837h3v1h-3zM949 837h3v1h-3zM955 837h3v1h-3zM961 837h3v1h-3zM967 837h3v1h-3zM973 837h3v1h-3zM979 837h3v1h-3zM985 837h3v1h-3zM991 837h3v1h-3zM997 837h3v1h-3zM1003 837h3v1h-3zM1009 837h3v1h-3zM1015 837h3v1h-3zM1021 837h3v1h-3zM1027 837h3v1h-3zM1033 837h3v1h-3zM1039 837h3v1h-3zM1045 837h3v1h-3zM1051 837h3v1h-3zM1057 837h3v1h-3zM1063 837h3v1h-3zM1069 837h3v1h-3zM1075 837h3v1h-3zM1081 837h3v1h-3zM1087 837h3v1h-3zM1093 837h3v1h-3zM1099 837h3v1h-3zM1105 837h3v1h-3zM1111 837h3v1h-3zM1117 837h3v1h-3zM1123 837h3v1h-3zM1129 837h3v1h-3zM1135 837h3v1h-3zM1141 837h3v1h-3zM1147 837h3v1h-3zM1153 837h3v1h-3zM1159 837h3v1h-3zM1165 837h3v1h-3zM1171 837h3v1h-3zM1177 837h3v1h-3zM1183 837h3v1h-3zM1189 837h3v1h-3zM1195 837h3v1h-3zM1201 837h3v1h-3zM1207 837h3v1h-3zM1213 837h3v1h-3zM1219 837h3v1h-3zM1225 837h3v1h-3zM1231 837h3v1h-3zM1237 837h3v1h-3zM1243 837h3v1h-3zM1249 837h3v1h-3zM1255 837h3v1h-3zM1261 837h3v1h-3zM1267 837h3v1h-3zM1273 837h3v1h-3zM1279 837h3v1h-3zM1285 837h3v1h-3zM1291 837h3v1h-3zM1297 837h3v1h-3zM1303 837h3v1h-3zM1309 837h3v1h-3zM1315 837h3v1h-3zM1321 837h3v1h-3zM1327 837h3v1h-3zM1333 837h3v1h-3zM1339 837h3v1h-3zM1345 837h3v1h-3zM1351 837h3v1h-3zM1357 837h3v1h-3zM1363 837h3v1h-3zM1369 837h3v1h-3zM1375 837h3v1h-3zM1381 837h3v1h-3zM1387 837h3v1h-3zM1393 837h3v1h-3zM1399 837h3v1h-3zM1405 837h3v1h-3zM1411 837h3v1h-3zM1417 837h3v1h-3zM1423 837h3v1h-3zM1429 837h3v1h-3zM1435 837h3v1h-3zM1441 837h3v1h-3zM1447 837h3v1h-3zM1453 837h3v1h-3zM1459 837h3v1h-3zM1465 837h3v1h-3zM1471 837h3v1h-3zM1477 837h3v1h-3zM1483 837h3v1h-3zM1489 837h3v1h-3zM1495 837h3v1h-3zM1501 837h3v1h-3zM1507 837h3v1h-3zM1513 837h3v1h-3zM1519 837h3v1h-3zM1525 837h3v1h-3zM1531 837h3v1h-3zM1537 837h3v1h-3zM1543 837h3v1h-3zM1549 837h3v1h-3zM1555 837h3v1h-3zM1561 837h3v1h-3zM1567 837h3v1h-3zM1573 837h3v1h-3zM1579 837h3v1h-3zM1585 837h3v1h-3zM1591 837h3v1h-3zM1597 837h3v1h-3zM1603 837h3v1h-3zM1609 837h3v1h-3zM1615 837h3v1h-3zM1621 837h3v1h-3zM1627 837h3v1h-3zM1633 837h3v1h-3zM1639 837h3v1h-3z"/>
<path fill="#C0C0C0" d="M1 898h3v1h-3zM7 898h3v1h-3zM13 898h3v1h-3zM19 898h3v1h-3zM25 898h3v1h-3zM31 898h3v1h-3zM37 898h3v1h-3zM43 898h3v1h-3zM49 898h3v1h-3zM55 898h3v1h-3zM61 898h3v1h-3zM67 898h3v1h-3zM73 898h3v1h-3zM79 898h3v1h-3zM85 898h3v1h-3zM91 898h3v1h-3zM97 898h3v1h-3zM103 898h3v1h-3zM109 898h3v1h-3zM115 898h3v1h-3zM121 898h3v1h-3zM127 898h3v1h-3zM133 898h3v1h-3zM139 898h3v1h-3zM145 898h3v1h-3zM151 898h3v1h-3zM157 898h3v1h-3zM163 898h3v1h-3zM169 898h3v1h-3zM175 898h3v1h-3zM181 898h3v1h-3zM187 898h3v1h-3zM193 898h3v1h-3zM199 898h3v1h-3zM205 898h3v1h-3zM211 898h3v1h-3zM217 898h3v1h-3zM223 898h3v1h-3zM229 898h3v1h-3zM235 898h3v1h-3zM241 898h3v1h-3zM247 898h3v1h-3zM253 898h3v1h-3zM259 898h3v1h-3zM265 898h3v1h-3zM271 898h3v1h-3zM277 898h3v1h-3zM283 898h3v1h-3zM289 898h3v1h-3zM295 898h3v1h-3zM301 898h3v1h-3zM307 898h3v1h-3zM313 898h3v1h-3zM319 898h3v1h-3zM325 898h3v1h-3zM331 898h3v1h-3zM337 898h3v1h-3zM343 898h3v1h-3zM349 898h3v1h-3zM355 898h3v1h-3zM361 898h3v1h-3zM367 898h3v1h-3zM373 898h3v1h-3zM379 898h3v1h-3zM385 898h3v1h-3zM391 898h3v1h-3zM397 898h3v1h-3zM403 898h3v1h-3zM409 898h3v1h-3zM415 898h3v1h-3zM421 898h3v1h-3zM427 898h3v1h-3zM433 898h3v1h-3zM439 898h3v1h-3zM445 898h3v1h-3zM451 898h3v1h-3zM457 898h3v1h-3zM463 898h3v1h-3zM469 898h3v1h-3zM475 898h3v1h-3zM481 898h3v1h-3zM487 898h3v1h-3zM493 898h3v1h-3zM499 898h3v1h-3zM505 898h3v1h-3zM511 898h3v1h-3zM517 898h3v1h-3zM523 898h3v1h-3zM529 898h3v1h-3zM535 898h3v1h-3zM541 898h3v1h-3zM547 898h3v1h-3zM553 898h3v1h-3zM559 898h3v1h-3zM565 898h3v1h-3zM571 898h3v1h-3zM577 898h3v1h-3zM583 898h3v1h-3zM589 898h3v1h-3zM595 898h3v1h-3zM601 898h3v1h-3zM607 898h3v1h-3zM613 898h3v1h-3zM619 898h3v1h-3zM625 898h3v1h-3zM631 898h3v1h-3zM637 898h3v1h-3zM643 898h3v1h-3zM649 898h3v1h-3zM655 898h3v1h-3zM661 898h3v1h-3zM667 898h3v1h-3zM673 898h3v1h-3zM679 898h3v1h-3zM685 898h3v1h-3zM691 898h3v1h-3zM697 898h3v1h-3zM703 898h3v1h-3zM709 898h3v1h-3zM715 898h3v1h-3zM721 898h3v1h-3zM727 898h3v1h-3zM733 898h3v1h-3zM739 898h3v1h-3zM745 898h3v1h-3zM751 898h3v1h-3zM757 898h3v1h-3zM763 898h3v1h-3zM769 898h3v1h-3zM775 898h3v1h-3zM781 898h3v1h-3zM787 898h3v1h-3zM793 898h3v1h-3zM799 898h3v1h-3zM805 898h3v1h-3zM811 898h3v1h-3zM817 898h3v1h-3zM823 898h3v1h-3zM829 898h3v1h-3zM835 898h3v1h-3zM841 898h3v1h-3zM847 898h3v1h-3zM853 898h3v1h-3zM859 898h3v1h-3zM865 898h3v1h-3zM871 898h3v1h-3zM877 898h3v1h-3zM883 898h3v1h-3zM889 898h3v1h-3zM895 898h3v1h-3zM901 898h3v1h-3zM907 898h3v1h-3zM913 898h3v1h-3zM919 898h3v1h-3zM925 898h3v1h-3zM931 898h3v1h-3zM937 898h3v1h-3zM943 898h3v1h-3zM949 898h3v1h-3zM955 898h3v1h-3zM961 898h3v1h-3zM967 898h3v1h-3zM973 898h3v1h-3zM979 898h3v1h-3zM985 898h3v1h-3zM991 898h3v1h-3zM997 898h3v1h-3zM1003 898h3v1h-3zM1009 898h3v1h-3zM1015 898h3v1h-3zM1021 898h3v1h-3zM1027 898h3v1h-3zM1033 898h3v1h-3zM1039 898h3v1h-3zM1045 898h3v1h-3zM1051 898h3v1h-3zM1057 898h3v1h-3zM1063 898h3v1h-3zM1069 898h3v1h-3zM1075 898h3v1h-3zM1081 898h3v1h-3zM1087 898h3v1h-3zM1093 898h3v1h-3zM1099 898h3v1h-3zM1105 898h3v1h-3zM1111 898h3v1h-3zM1117 898h3v1h-3zM1123 898h3v1h-3zM1129 898h3v1h-3zM1135 898h3v1h-3zM1141 898h3v1h-3zM1147 898h3v1h-3zM1153 898h3v1h-3zM1159 898h3v1h-3zM1165 898h3v1h-3zM1171 898h3v1h-3zM1177 898h3v1h-3zM1183 898h3v1h-3zM1189 898h3v1h-3zM1195 898h3v1h-3zM1201 898h3v1h-3zM1207 898h3v1h-3zM1213 898h3v1h-3zM1219 898h3v1h-3zM1225 898h3v1h-3zM1231 898h3v1h-3zM1237 898h3v1h-3zM1243 898h3v1h-3zM1249 898h3v1h-3zM1255 898h3v1h-3zM1261 898h3v1h-3zM1267 898h3v1h-3zM1273 898h3v1h-3zM1279 898h3v1h-3zM1285 898h3v1h-3zM1291 898h3v1h-3zM1297 898h3v1h-3zM1303 898h3v1h-3zM1309 898h3v1h-3zM1315 898h3v1h-3zM1321 898h3v1h-3zM1327 898h3v1h-3zM1333 898h3v1h-3zM1339 898h3v1h-3zM1345 898h3v1h-3zM1351 898h3v1h-3zM1357 898h3v1h-3zM1363 898h3v1h-3zM1369 898h3v1h-3zM1375 898h3v1h-3zM1381 898h3v1h-3zM1387 898h3v1h-3zM1393 898h3v1h-3zM1399 898h3v1h-3zM1405 898h3v1h-3zM1411 898h3v1h-3zM1417 898h3v1h-3zM1423 898h3v1h-3zM1429 898h3v1h-3zM1435 898h3v1h-3zM1441 898h3v1h-3zM1447 898h3v1h-3zM1453 898h3v1h-3zM1459 898h3v1h-3zM1465 898h3v1h-3zM1471 898h3v1h-3zM1477 898h3v1h-3zM1483 898h3v1h-3zM1489 898h3v1h-3zM1495 898h3v1h-3zM1501 898h3v1h-3zM1507 898h3v1h-3zM1513 898h3v1h-3zM1519 898h3v1h-3zM1525 898h3v1h-3zM1531 898h3v1h-3zM1537 898h3v1h-3zM1543 898h3v1h-3zM1549 898h3v1h-3zM1555 898h3v1h-3zM1561 898h3v1h-3zM1567 898h3v1h-3zM1573 898h3v1h-3zM1579 898h3v1h-3zM1585 898h3v1h-3zM1591 898h3v1h-3zM1597 898h3v1h-3zM1603 898h3v1h-3zM1609 898h3v1h-3zM1615 898h3v1h-3zM1621 898h3v1h-3zM1627 898h3v1h-3zM1633 898h3v1h-3zM1639 898h3v1h-3z"/>
<path fill="#1E90FF" d="M19 824h2v1h-2zM45 824h4v1h-4zM416 824h2v1h-2zM26 820h5v1h-5zM35 820h2v1h-2zM429 820h2v1h-2zM437 820h2v1h-2zM781 820h2v1h-2zM792 820h3v1h-3zM1365 820h4v1h-4zM1371 820h2v1h-2zM1383 820h2v1h-2zM31 819h4v1h-4zM424 819h2v1h-2zM427 819h2v1h-2zM779 819h2v1h-2zM1362 819h3v1h-3zM1373 819h2v1h-2zM117 853h2v1h-2zM210 853h3v1h-3zM634 853h3v1h-3zM660 853h2v1h-2zM881 853h4v1h-4zM1092 853h3v1h-3zM1102 853h2v1h-2zM1197 853h4v1h-4zM1242 853h3v1h-3zM1253 853h2v1h-2zM65 845h2v1h-2zM90 845h2v1h-2zM288 845h2v1h-2zM573 845h4v1h-4zM1 832h3v1h-3zM352 832h2v1h-2zM357 832h4v1h-4zM732 832h3v1h-3zM92 844h2v1h-2zM570 844h3v1h-3zM1025 844h3v1h-3zM154 863h2v1h-2zM197 863h2v1h-2zM1145 863h2v1h-2zM349 834h2v1h-2zM1045 834h4v1h-4zM223 859h2v1h-2zM231 859h2v1h-2zM237 859h4v1h-4zM298 859h10v1h-10zM329 859h4v1h-4zM596 859h2v1h-2zM672 859h2v1h-2zM693 859h4v1h-4zM853 859h2v1h-2zM864 859h2v1h-2zM1114 859h2v1h-2zM1324 859h3v1h-3zM128 860h2v1h-2zM160 860h3v1h-3zM228 860h3v1h-3zM241 860h2v1h-2zM594 860h2v1h-2zM674 860h19v1h-19zM862 860h2v1h-2zM1116 860h2v1h-2zM1327 860h2v1h-2zM946 868h2v1h-2zM959 868h2v1h-2zM977 868h2v1h-2zM996 868h2v1h-2zM1154 868h2v1h-2zM125 858h2v1h-2zM203 858h2v1h-2zM233 858h4v1h-4zM308 858h2v1h-2zM327 858h2v1h-2zM333 858h4v1h-4zM598 858h2v1h-2zM619 858h2v1h-2zM670 858h2v1h-2zM697 858h2v1h-2zM851 858h2v1h-2zM866 858h2v1h-2zM1186 858h2v1h-2zM1322 858h2v1h-2zM255 849h5v1h-5zM585 849h2v1h-2zM823 849h2v1h-2zM839 849h4v1h-4zM1209 849h3v1h-3zM1261 849h4v1h-4zM120 855h2v1h-2zM207 855h2v1h-2zM217 855h2v1h-2zM314 855h5v1h-5zM664 855h2v1h-2zM873 855h4v1h-4zM1097 855h3v1h-3zM1192 855h2v1h-2zM1249 855h2v1h-2zM140 871h2v1h-2zM900 871h2v1h-2zM952 871h2v1h-2zM955 871h2v1h-2zM1161 871h2v1h-2zM563 840h2v1h-2zM714 840h2v1h-2zM1304 840h2v1h-2zM21 823h2v1h-2zM39 823h2v1h-2zM49 823h2v1h-2zM786 823h2v1h-2zM1357 823h2v1h-2zM115 852h2v1h-2zM264 852h2v1h-2zM637 852h4v1h-4zM658 852h2v1h-2zM818 852h3v1h-3zM885 852h4v1h-4zM1090 852h2v1h-2zM1104 852h2v1h-2zM1201 852h3v1h-3zM453 809h4v1h-4zM94 843h2v1h-2zM568 843h2v1h-2zM721 843h2v1h-2zM1023 843h2v1h-2zM1028 843h3v1h-3zM1231 843h2v1h-2zM1282 843h3v1h-3zM1297 843h3v1h-3zM174 874h2v1h-2zM906 874h3v1h-3zM213 854h4v1h-4zM662 854h2v1h-2zM877 854h4v1h-4zM1095 854h2v1h-2zM1100 854h2v1h-2zM1194 854h3v1h-3zM1245 854h4v1h-4zM1251 854h2v1h-2zM466 801h3v1h-3zM477 801h2v1h-2zM1407 801h2v1h-2zM1415 801h4v1h-4zM8 829h2v1h-2zM77 829h4v1h-4zM400 829h2v1h-2zM405 829h4v1h-4zM741 829h4v1h-4zM748 829h3v1h-3zM758 829h2v1h-2zM561 839h2v1h-2zM260 850h2v1h-2zM269 850h2v1h-2zM1207 850h2v1h-2zM1258 850h3v1h-3zM262 851h2v1h-2zM641 851h2v1h-2zM889 851h2v1h-2zM1204 851h3v1h-3zM1256 851h2v1h-2zM158 861h2v1h-2zM226 861h2v1h-2zM623 861h2v1h-2zM856 861h2v1h-2zM860 861h2v1h-2zM1118 861h2v1h-2zM1138 861h3v1h-3zM1329 861h2v1h-2zM123 857h2v1h-2zM310 857h2v1h-2zM324 857h3v1h-3zM337 857h2v1h-2zM600 857h2v1h-2zM668 857h2v1h-2zM868 857h3v1h-3zM1188 857h2v1h-2zM274 846h3v1h-3zM286 846h2v1h-2zM577 846h3v1h-3zM1217 846h6v1h-6zM1227 846h2v1h-2zM361 833h2v1h-2zM730 833h2v1h-2zM1042 833h3v1h-3zM98 841h9v1h-9zM565 841h2v1h-2zM716 841h3v1h-3zM1018 841h2v1h-2zM1033 841h2v1h-2zM1063 841h2v1h-2zM1289 841h4v1h-4zM1302 841h2v1h-2zM450 810h3v1h-3zM419 822h2v1h-2zM432 822h2v1h-2zM784 822h2v1h-2zM788 822h2v1h-2zM96 842h2v1h-2zM719 842h2v1h-2zM1020 842h3v1h-3zM1031 842h2v1h-2zM1285 842h4v1h-4zM1293 842h4v1h-4zM1300 842h2v1h-2zM920 880h2v1h-2zM530 811h9v1h-9zM219 856h2v1h-2zM312 856h2v1h-2zM319 856h5v1h-5zM666 856h2v1h-2zM871 856h2v1h-2zM1190 856h2v1h-2zM250 848h5v1h-5zM281 848h3v1h-3zM583 848h2v1h-2zM831 848h8v1h-8zM1212 848h3v1h-3zM1265 848h2v1h-2zM176 873h2v1h-2zM183 873h4v1h-4zM904 873h2v1h-2zM469 800h4v1h-4zM475 800h2v1h-2zM1409 800h6v1h-6zM152 864h2v1h-2zM1147 864h2v1h-2zM24 821h2v1h-2zM421 821h2v1h-2zM790 821h2v1h-2zM1369 821h2v1h-2zM10 828h2v1h-2zM81 828h2v1h-2zM409 828h2v1h-2zM745 828h3v1h-3zM760 828h2v1h-2zM6 830h2v1h-2zM74 830h3v1h-3zM402 830h3v1h-3zM737 830h4v1h-4zM751 830h2v1h-2zM756 830h2v1h-2zM1349 830h2v1h-2zM170 876h2v1h-2zM913 876h2v1h-2zM12 827h3v1h-3zM397 827h2v1h-2zM411 827h2v1h-2zM770 818h9v1h-9zM967 865h5v1h-5zM1149 865h2v1h-2zM1175 865h4v1h-4zM147 867h2v1h-2zM975 867h2v1h-2zM994 867h2v1h-2zM1152 867h2v1h-2zM1168 867h2v1h-2zM385 815h2v1h-2zM443 815h2v1h-2zM488 807h2v1h-2zM493 807h4v1h-4zM525 807h2v1h-2zM1395 807h2v1h-2zM142 870h2v1h-2zM189 870h2v1h-2zM898 870h2v1h-2zM950 870h2v1h-2zM1000 870h3v1h-3zM1159 870h2v1h-2zM1163 870h2v1h-2zM461 805h2v1h-2zM484 805h2v1h-2zM509 805h4v1h-4zM347 835h2v1h-2zM1049 835h4v1h-4zM915 877h2v1h-2zM277 847h4v1h-4zM284 847h2v1h-2zM580 847h3v1h-3zM826 847h5v1h-5zM1215 847h2v1h-2zM1223 847h4v1h-4zM144 869h2v1h-2zM948 869h2v1h-2zM998 869h2v1h-2zM1156 869h3v1h-3zM1165 869h2v1h-2zM559 838h2v1h-2zM1059 838h2v1h-2zM482 804h2v1h-2zM513 804h10v1h-10zM1400 804h2v1h-2zM17 825h2v1h-2zM42 825h3v1h-3zM486 806h2v1h-2zM497 806h12v1h-12zM1397 806h2v1h-2zM546 836h10v1h-10zM807 836h4v1h-4zM1053 836h4v1h-4zM1376 817h2v1h-2zM1379 817h2v1h-2zM156 862h2v1h-2zM858 862h2v1h-2zM1120 862h2v1h-2zM1141 862h4v1h-4zM1181 862h2v1h-2zM149 866h2v1h-2zM705 866h2v1h-2zM962 866h5v1h-5zM972 866h3v1h-3zM1170 866h5v1h-5zM138 872h2v1h-2zM178 872h5v1h-5zM902 872h2v1h-2zM172 875h2v1h-2zM909 875h4v1h-4zM556 837h3v1h-3zM802 837h5v1h-5zM1057 837h2v1h-2zM381 814h4v1h-4zM447 812h2v1h-2zM926 883h2v1h-2zM917 878h2v1h-2zM930 885h5v1h-5zM15 826h2v1h-2zM395 826h2v1h-2zM413 826h2v1h-2zM457 808h2v1h-2zM490 808h3v1h-3zM935 886h4v1h-4zM1404 802h3v1h-3zM378 813h3v1h-3zM4 831h2v1h-2zM354 831h3v1h-3zM735 831h2v1h-2zM753 831h3v1h-3zM928 884h2v1h-2zM480 803h2v1h-2zM1402 803h2v1h-2zM473 799h2v1h-2zM922 881h2v1h-2zM924 882h2v1h-2zM146 868h1v1h-1zM709 856h1v3h-1zM83 830h1v2h-1zM41 824h1v1h-1zM701 861h1v1h-1zM815 846h1v2h-1zM1016 844h1v2h-1zM713 842h1v4h-1zM1122 863h1v1h-1zM371 823h1v2h-1zM797 825h1v2h-1zM294 851h1v2h-1zM986 859h1v1h-1zM1008 858h1v2h-1zM1343 839h1v2h-1zM1378 816h1v1h-1zM267 852h1v1h-1zM1332 858h1v2h-1zM1084 844h1v2h-1zM632 855h1v2h-1zM1229 845h1v1h-1zM169 873h1v2h-1zM1356 824h1v1h-1zM1085 846h1v1h-1zM708 859h1v3h-1zM614 851h1v2h-1zM1233 842h1v1h-1zM1107 852h1v1h-1zM375 817h1v2h-1zM291 845h1v2h-1zM1012 851h1v2h-1zM1236 844h1v1h-1zM1393 809h1v2h-1zM712 846h1v3h-1zM993 866h1v1h-1zM1130 853h1v1h-1zM1004 866h1v2h-1zM1342 841h1v3h-1zM85 834h1v2h-1zM463 804h1v1h-1zM1354 826h1v1h-1zM943 874h1v2h-1zM766 822h1v2h-1zM37 821h1v1h-1zM891 853h1v2h-1zM1312 846h1v2h-1zM621 859h1v1h-1zM814 844h1v2h-1zM1347 832h1v1h-1zM542 822h1v4h-1zM245 855h1v2h-1zM1313 848h1v1h-1zM134 866h1v2h-1zM1389 816h1v2h-1zM811 838h1v2h-1zM248 851h1v1h-1zM1137 860h1v1h-1zM1035 840h1v1h-1zM1338 850h1v2h-1zM394 825h1v1h-1zM290 844h1v1h-1zM1319 855h1v1h-1zM1255 852h1v1h-1zM796 823h1v2h-1zM271 849h1v1h-1zM293 849h1v2h-1zM942 876h1v3h-1zM344 840h1v3h-1zM545 832h1v3h-1zM1320 856h1v1h-1zM221 857h1v1h-1zM168 871h1v2h-1zM55 832h1v2h-1zM613 850h1v1h-1zM894 860h1v2h-1zM119 854h1v1h-1zM1240 850h1v1h-1zM194 866h1v1h-1zM728 835h1v2h-1zM439 819h1v1h-1zM73 831h1v2h-1zM1275 834h1v1h-1zM187 872h1v1h-1zM711 849h1v3h-1zM769 819h1v1h-1zM137 870h1v2h-1zM1351 829h1v1h-1zM1331 860h1v1h-1zM628 860h1v2h-1zM1270 840h1v2h-1zM567 842h1v1h-1zM703 864h1v1h-1zM1136 859h1v1h-1zM393 824h1v1h-1zM704 865h1v1h-1zM374 819h1v1h-1zM69 839h1v2h-1zM795 821h1v2h-1zM1392 811h1v2h-1zM544 829h1v3h-1zM366 829h1v1h-1zM338 856h1v1h-1zM1088 849h1v2h-1zM617 855h1v2h-1zM893 857h1v3h-1zM821 851h1v1h-1zM205 857h1v1h-1zM1239 848h1v2h-1zM1073 833h1v2h-1zM244 857h1v1h-1zM1274 833h1v1h-1zM1388 818h1v2h-1zM643 850h1v1h-1zM1334 856h1v1h-1zM343 843h1v3h-1zM946 869h1v1h-1zM961 867h1v1h-1zM847 854h1v1h-1zM541 819h1v3h-1zM593 858h1v2h-1zM1076 834h1v2h-1zM919 879h1v1h-1zM890 852h1v1h-1zM1068 840h1v1h-1zM1110 855h1v1h-1zM346 836h1v2h-1zM848 855h1v1h-1zM377 814h1v2h-1zM723 842h1v1h-1zM1399 805h1v1h-1zM1003 868h1v2h-1zM609 847h1v1h-1zM987 860h1v1h-1zM810 837h1v1h-1zM57 836h1v2h-1zM465 802h1v1h-1zM1011 853h1v2h-1zM988 861h1v1h-1zM980 866h1v1h-1zM710 852h1v4h-1zM58 838h1v1h-1zM1346 833h1v2h-1zM604 853h1v2h-1zM615 853h1v1h-1zM0 833h1v1h-1zM1087 848h1v1h-1zM707 862h1v4h-1zM825 848h1v1h-1zM616 854h1v1h-1zM84 832h1v2h-1zM209 854h1v1h-1zM1037 838h1v1h-1zM1109 854h1v1h-1zM1269 842h1v2h-1zM1015 846h1v2h-1zM54 830h1v2h-1zM892 855h1v2h-1zM765 824h1v1h-1zM1124 860h1v2h-1zM51 824h1v2h-1zM941 879h1v2h-1zM1007 860h1v2h-1zM650 843h1v1h-1zM136 869h1v1h-1zM1311 845h1v1h-1zM107 842h1v1h-1zM631 857h1v1h-1zM370 825h1v1h-1zM726 838h1v1h-1zM68 841h1v2h-1zM392 822h1v2h-1zM799 830h1v2h-1zM540 816h1v3h-1zM266 853h1v1h-1zM1075 833h1v1h-1zM813 842h1v2h-1zM626 863h1v1h-1zM1341 844h1v2h-1zM983 862h1v1h-1zM72 833h1v2h-1zM441 817h1v1h-1zM1387 820h1v2h-1zM1321 857h1v1h-1zM167 869h1v2h-1zM714 841h1v1h-1zM170 875h1v1h-1zM445 814h1v1h-1zM434 823h1v1h-1zM945 870h1v2h-1zM449 811h1v1h-1zM247 852h1v2h-1zM1391 813h1v2h-1zM1276 835h1v2h-1zM1002 871h1v1h-1zM345 838h1v2h-1zM373 820h1v2h-1zM1277 837h1v1h-1zM1132 855h1v1h-1zM702 862h1v2h-1zM622 860h1v1h-1zM1314 849h1v1h-1zM812 840h1v2h-1zM603 855h1v1h-1zM151 865h1v1h-1zM196 864h1v1h-1zM794 819h1v1h-1zM1273 834h1v2h-1zM940 881h1v2h-1zM645 848h1v1h-1zM543 826h1v3h-1zM342 846h1v2h-1zM1086 847h1v1h-1zM1360 821h1v1h-1zM1180 863h1v1h-1zM193 867h1v1h-1zM896 865h1v2h-1zM365 830h1v1h-1zM166 867h1v2h-1zM1006 862h1v2h-1zM1067 841h1v2h-1zM1184 860h1v1h-1zM53 828h1v2h-1zM1070 837h1v2h-1zM1131 854h1v1h-1zM1353 827h1v1h-1zM56 834h1v2h-1zM399 828h1v1h-1zM768 820h1v1h-1zM38 822h1v1h-1zM426 818h1v1h-1zM801 834h1v2h-1zM843 850h1v1h-1zM341 848h1v3h-1zM479 802h1v1h-1zM1041 834h1v1h-1zM110 846h1v1h-1zM763 826h1v1h-1zM1340 846h1v2h-1zM388 817h1v2h-1zM798 827h1v3h-1zM368 827h1v1h-1zM1268 844h1v2h-1zM850 857h1v1h-1zM200 861h1v1h-1zM67 843h1v2h-1zM340 851h1v3h-1zM1375 818h1v1h-1zM1336 853h1v2h-1zM895 862h1v3h-1zM165 865h1v2h-1zM268 851h1v1h-1zM52 826h1v2h-1zM60 840h1v1h-1zM418 823h1v1h-1zM1089 851h1v1h-1zM618 857h1v1h-1zM587 850h1v2h-1zM108 843h1v2h-1zM649 844h1v1h-1zM191 869h1v1h-1zM800 832h1v2h-1zM588 852h1v1h-1zM725 839h1v1h-1zM109 845h1v1h-1zM849 856h1v1h-1zM1280 840h1v2h-1zM1272 836h1v2h-1zM1112 857h1v1h-1zM1077 836h1v1h-1zM982 863h1v2h-1zM376 816h1v1h-1zM436 821h1v1h-1zM71 835h1v2h-1zM606 851h1v1h-1zM460 806h1v1h-1zM1394 808h1v1h-1zM979 867h1v1h-1zM1078 837h1v1h-1zM440 818h1v1h-1zM1039 836h1v1h-1zM944 872h1v2h-1zM539 813h1v3h-1zM989 862h1v1h-1zM1123 862h1v1h-1zM89 842h1v2h-1zM59 839h1v1h-1zM1167 868h1v1h-1zM1390 815h1v1h-1zM990 863h1v1h-1zM363 832h1v1h-1zM633 854h1v1h-1zM1230 844h1v1h-1zM90 844h1v1h-1zM131 862h1v2h-1zM272 848h1v1h-1zM1306 839h1v1h-1zM939 883h1v2h-1zM387 816h1v1h-1zM985 860h1v1h-1zM651 844h1v1h-1zM1385 821h1v1h-1zM1267 846h1v2h-1zM1111 856h1v1h-1zM954 872h1v1h-1zM66 846h1v1h-1zM1005 864h1v2h-1zM1279 839h1v1h-1zM652 845h1v1h-1zM1386 822h1v1h-1zM1134 857h1v1h-1zM1355 825h1v1h-1zM897 867h1v2h-1zM644 849h1v1h-1zM1359 822h1v1h-1zM1179 864h1v1h-1zM1126 858h1v1h-1zM1129 854h1v1h-1zM898 869h1v1h-1zM249 849h1v2h-1zM164 863h1v2h-1zM1066 843h1v1h-1zM1036 839h1v1h-1zM1339 848h1v2h-1zM1271 838h1v2h-1zM86 836h1v2h-1zM1237 845h1v2h-1zM1133 856h1v1h-1zM527 808h1v1h-1zM70 837h1v2h-1zM202 859h1v1h-1zM590 854h1v2h-1zM339 854h1v2h-1zM762 827h1v1h-1zM845 852h1v1h-1zM647 846h1v1h-1zM206 856h1v1h-1zM591 856h1v1h-1zM112 848h1v2h-1zM958 869h1v1h-1zM1278 838h1v1h-1zM195 865h1v1h-1zM367 828h1v1h-1zM1080 839h1v2h-1zM431 821h1v1h-1zM199 862h1v1h-1zM243 858h1v2h-1zM1183 861h1v1h-1zM1081 841h1v1h-1zM1065 842h1v1h-1zM1316 851h1v1h-1zM1381 818h1v1h-1zM523 805h1v1h-1zM608 848h1v2h-1zM1382 819h1v1h-1zM1308 841h1v2h-1zM818 853h1v1h-1zM802 836h1v1h-1zM130 861h1v1h-1zM297 857h1v2h-1zM435 822h1v1h-1zM654 847h1v2h-1zM225 860h1v1h-1zM822 850h1v1h-1zM1315 850h1v1h-1zM111 847h1v1h-1zM655 849h1v1h-1zM1079 838h1v1h-1zM1069 839h1v1h-1zM1072 835h1v1h-1zM538 812h1v1h-1zM727 837h1v1h-1zM88 840h1v2h-1zM1333 857h1v1h-1zM163 861h1v2h-1zM351 833h1v1h-1zM1106 851h1v1h-1zM844 851h1v1h-1zM855 860h1v1h-1zM61 841h1v1h-1zM627 862h1v1h-1zM938 885h1v1h-1zM981 865h1v1h-1zM992 865h1v1h-1zM442 816h1v1h-1zM699 859h1v1h-1zM605 852h1v1h-1zM62 842h1v1h-1zM389 819h1v1h-1zM122 856h1v1h-1zM817 850h1v2h-1zM589 853h1v1h-1zM700 860h1v1h-1zM1061 839h1v1h-1zM296 855h1v2h-1zM1345 835h1v2h-1zM1038 837h1v1h-1zM423 820h1v1h-1zM1281 842h1v1h-1zM653 846h1v1h-1zM1113 858h1v1h-1zM706 867h1v1h-1zM783 821h1v1h-1zM1125 859h1v1h-1zM1014 848h1v1h-1zM991 864h1v1h-1zM1235 842h1v2h-1zM87 838h1v2h-1zM630 858h1v1h-1zM369 826h1v1h-1zM984 861h1v1h-1zM1010 855h1v1h-1zM446 813h1v1h-1zM132 864h1v1h-1zM646 847h1v1h-1zM1307 840h1v1h-1zM957 870h1v1h-1zM1361 820h1v1h-1zM415 825h1v1h-1zM1128 855h1v2h-1zM133 865h1v1h-1zM464 803h1v1h-1zM295 853h1v2h-1zM23 822h1v1h-1zM1151 866h1v1h-1zM1318 853h1v2h-1zM114 851h1v1h-1zM246 854h1v1h-1zM611 847h1v2h-1zM1083 843h1v1h-1zM764 825h1v1h-1zM612 849h1v1h-1zM1234 841h1v1h-1zM201 860h1v1h-1zM816 848h1v2h-1zM1238 847h1v1h-1zM528 809h1v1h-1zM1185 859h1v1h-1zM1135 858h1v1h-1zM529 810h1v1h-1zM592 857h1v1h-1zM113 850h1v1h-1zM1013 849h1v2h-1zM1348 831h1v1h-1zM364 831h1v1h-1zM1317 852h1v1h-1zM1352 828h1v1h-1zM292 847h1v2h-1zM724 840h1v2h-1zM657 851h1v1h-1zM767 821h1v1h-1zM1082 842h1v1h-1zM607 850h1v1h-1zM1017 842h1v2h-1zM372 822h1v1h-1zM1009 856h1v2h-1zM1344 837h1v2h-1zM162 859h1v1h-1zM1241 851h1v2h-1zM1108 853h1v1h-1zM1309 843h1v1h-1zM846 853h1v1h-1zM390 820h1v1h-1zM135 868h1v1h-1zM188 871h1v1h-1zM1337 852h1v1h-1zM1310 844h1v1h-1zM546 835h1v1h-1zM64 844h1v1h-1zM391 821h1v1h-1zM273 847h1v1h-1zM1335 855h1v1h-1zM192 868h1v1h-1zM1071 836h1v1h-1zM729 834h1v1h-1zM656 850h1v1h-1zM625 862h1v1h-1zM648 845h1v1h-1zM610 846h1v1h-1zM629 859h1v1h-1zM524 806h1v1h-1zM127 859h1v1h-1zM1040 835h1v1h-1zM222 858h1v1h-1zM602 856h1v1h-1zM459 807h1v1h-1zM1062 840h1v1h-1zM82 829h1v1h-1zM1127 857h1v1h-1zM63 843h1v1h-1zM1074 832h1v1h-1z"/>
</g>
<g shape-rendering="crispEdges">
<rect x="0" y="23" width="1646" height="1" fill="#000"/>
<rect x="1645" y="23" width="1" height="554" fill="#000"/>
<rect x="1645" y="578" width="1" height="170" fill="#000"/>
<rect x="1645" y="750" width="1" height="175" fill="#000"/>
<rect x="0" y="576" width="1646" height="1" fill="#000"/>
<rect x="0" y="578" width="1646" height="1" fill="#000"/>
<rect x="0" y="747" width="1646" height="1" fill="#000"/>
<rect x="0" y="750" width="1646" height="1" fill="#000"/>
<rect x="0" y="924" width="1646" height="1" fill="#000"/>
<rect x="1691" y="21" width="1" height="920" fill="#D8D8D8"/>
<rect x="1646" y="45" width="2" height="1" fill="#000"/>
<rect x="1646" y="78" width="2" height="1" fill="#000"/>
<rect x="1646" y="111" width="2" height="1" fill="#000"/>
<rect x="1646" y="144" width="2" height="1" fill="#000"/>
<rect x="1646" y="177" width="2" height="1" fill="#000"/>
<rect x="1646" y="210" width="2" height="1" fill="#000"/>
<rect x="1646" y="243" width="2" height="1" fill="#000"/>
<rect x="1646" y="276" width="2" height="1" fill="#000"/>
<rect x="1646" y="309" width="2" height="1" fill="#000"/>
<rect x="1646" y="342" width="2" height="1" fill="#000"/>
<rect x="1646" y="375" width="2" height="1" fill="#000"/>
<rect x="1646" y="408" width="2" height="1" fill="#000"/>
<rect x="1646" y="441" width="2" height="1" fill="#000"/>
<rect x="1646" y="474" width="2" height="1" fill="#000"/>
<rect x="1646" y="507" width="2" height="1" fill="#000"/>
<rect x="1646" y="540" width="2" height="1" fill="#000"/>
<rect x="1646" y="573" width="2" height="1" fill="#000"/>
<rect x="1646" y="580" width="1" height="1" fill="#000"/>
<rect x="1646" y="658" width="1" height="1" fill="#000"/>
<rect x="1646" y="747" width="1" height="1" fill="#000"/>
<rect x="1646" y="750" width="1" height="1" fill="#000"/>
<rect x="1646" y="924" width="1" height="1" fill="#000"/>
<rect x="50" y="925" width="1" height="3" fill="#000"/>
<rect x="114" y="925" width="1" height="3" fill="#000"/>
<rect x="178" y="925" width="1" height="3" fill="#000"/>
<rect x="242" y="925" width="1" height="3" fill="#000"/>
<rect x="306" y="925" width="1" height="3" fill="#000"/>
<rect x="370" y="925" width="1" height="3" fill="#000"/>
<rect x="434" y="925" width="1" height="3" fill="#000"/>
<rect x="498" y="925" width="1" height="3" fill="#000"/>
<rect x="562" y="925" width="1" height="3" fill="#000"/>
<rect x="626" y="925" width="1" height="3" fill="#000"/>
<rect x="690" y="925" width="1" height="3" fill="#000"/>
<rect x="754" y="925" width="1" height="3" fill="#000"/>
<rect x="818" y="925" width="1" height="3" fill="#000"/>
<rect x="882" y="925" width="1" height="3" fill="#000"/>
<rect x="946" y="925" width="1" height="3" fill="#000"/>
<rect x="1010" y="925" width="1" height="3" fill="#000"/>
<rect x="1074" y="925" width="1" height="3" fill="#000"/>
<rect x="1138" y="925" width="1" height="3" fill="#000"/>
<rect x="1202" y="925" width="1" height="3" fill="#000"/>
<rect x="1266" y="925" width="1" height="3" fill="#000"/>
<rect x="1330" y="925" width="1" height="3" fill="#000"/>
<rect x="1394" y="925" width="1" height="3" fill="#000"/>
</g>
</svg>
<div class="t" style="left:1650.3px;top:39.5px;font-size:10px;color:#000;transform:scaleX(0.98);">26507.0</div>
<div class="t" style="left:1650.3px;top:72.5px;font-size:10px;color:#000;transform:scaleX(0.98);">26262.0</div>
<div class="t" style="left:1650.3px;top:105.5px;font-size:10px;color:#000;transform:scaleX(0.98);">26017.0</div>
<div class="t" style="left:1650.3px;top:138.5px;font-size:10px;color:#000;transform:scaleX(0.98);">25772.0</div>
<div class="t" style="left:1650.3px;top:171.5px;font-size:10px;color:#000;transform:scaleX(0.98);">25527.0</div>
<div class="t" style="left:1650.3px;top:204.5px;font-size:10px;color:#000;transform:scaleX(0.98);">25282.0</div>
<div class="t" style="left:1650.3px;top:237.5px;font-size:10px;color:#000;transform:scaleX(0.98);">25037.0</div>
<div class="t" style="left:1650.3px;top:270.5px;font-size:10px;color:#000;transform:scaleX(0.98);">24792.0</div>
<div class="t" style="left:1650.3px;top:303.5px;font-size:10px;color:#000;transform:scaleX(0.98);">24547.0</div>
<div class="t" style="left:1650.3px;top:336.5px;font-size:10px;color:#000;transform:scaleX(0.98);">24302.0</div>
<div class="t" style="left:1650.3px;top:402.5px;font-size:10px;color:#000;transform:scaleX(0.98);">23812.0</div>
<div class="t" style="left:1650.3px;top:435.5px;font-size:10px;color:#000;transform:scaleX(0.98);">23567.0</div>
<div class="t" style="left:1650.3px;top:468.5px;font-size:10px;color:#000;transform:scaleX(0.98);">23322.0</div>
<div class="t" style="left:1650.3px;top:501.5px;font-size:10px;color:#000;transform:scaleX(0.98);">23077.0</div>
<div class="t" style="left:1650.3px;top:534.5px;font-size:10px;color:#000;transform:scaleX(0.98);">22832.0</div>
<div class="t" style="left:1650.3px;top:567.5px;font-size:10px;color:#000;transform:scaleX(0.98);">22587.0</div>
<div class="t" style="left:1648.5px;top:579.5px;font-size:10px;color:#000;transform:scaleX(0.97);">433.23</div>
<div class="t" style="left:1648.5px;top:652.5px;font-size:10px;color:#000;transform:scaleX(0.97);">0.00</div>
<div class="t" style="left:1648.5px;top:735.5px;font-size:10px;color:#000;transform:scaleX(0.97);">-491.94</div>
<div class="t" style="left:1649px;top:751.5px;font-size:10px;color:#000;transform:scaleX(0.93);">100</div>
<div class="t" style="left:1648px;top:780.5px;font-size:10px;color:#000;transform:scaleX(0.93);">80</div>
<div class="t" style="left:1648px;top:831.5px;font-size:10px;color:#000;transform:scaleX(0.93);">50</div>
<div class="t" style="left:1648.5px;top:893px;font-size:10px;color:#000;transform:scaleX(0.93);">15</div>
<div class="t" style="left:1649px;top:911.5px;font-size:10px;color:#000;transform:scaleX(0.93);">0</div>
<div class="t" style="left:48.6px;top:927.5px;font-size:10px;color:#000;transform:scaleX(0.94);">8 Sep 05:00</div>
<div class="t" style="left:112.6px;top:927.5px;font-size:10px;color:#000;transform:scaleX(0.94);">14 Sep 05:00</div>
<div class="t" style="left:176.6px;top:927.5px;font-size:10px;color:#000;transform:scaleX(0.94);">20 Sep 05:00</div>
<div class="t" style="left:240.6px;top:927.5px;font-size:10px;color:#000;transform:scaleX(0.94);">27 Sep 05:00</div>
<div class="t" style="left:304.6px;top:927.5px;font-size:10px;color:#000;transform:scaleX(0.94);">4 Oct 05:00</div>
<div class="t" style="left:368.6px;top:927.5px;font-size:10px;color:#000;transform:scaleX(0.94);">8 Oct 05:00</div>
<div class="t" style="left:432.6px;top:927.5px;font-size:10px;color:#000;transform:scaleX(0.94);">18 Oct 01:15</div>
<div class="t" style="left:496.6px;top:927.5px;font-size:10px;color:#000;transform:scaleX(0.94);">22 Oct 01:15</div>
<div class="t" style="left:560.6px;top:927.5px;font-size:10px;color:#000;transform:scaleX(0.94);">28 Oct 01:15</div>
<div class="t" style="left:624.6px;top:927.5px;font-size:10px;color:#000;transform:scaleX(0.94);">3 Nov 01:15</div>
<div class="t" style="left:688.6px;top:927.5px;font-size:10px;color:#000;transform:scaleX(0.94);">9 Nov 01:15</div>
<div class="t" style="left:752.6px;top:927.5px;font-size:10px;color:#000;transform:scaleX(0.94);">15 Nov 01:15</div>
<div class="t" style="left:816.6px;top:927.5px;font-size:10px;color:#000;transform:scaleX(0.94);">19 Nov 01:15</div>
<div class="t" style="left:880.6px;top:927.5px;font-size:10px;color:#000;transform:scaleX(0.94);">25 Nov 01:15</div>
<div class="t" style="left:944.6px;top:927.5px;font-size:10px;color:#000;transform:scaleX(0.94);">1 Dec 01:15</div>
<div class="t" style="left:1008.6px;top:927.5px;font-size:10px;color:#000;transform:scaleX(0.94);">7 Dec 01:15</div>
<div class="t" style="left:1072.6px;top:927.5px;font-size:10px;color:#000;transform:scaleX(0.94);">13 Dec 01:15</div>
<div class="t" style="left:1136.6px;top:927.5px;font-size:10px;color:#000;transform:scaleX(0.94);">17 Dec 01:15</div>
<div class="t" style="left:1200.6px;top:927.5px;font-size:10px;color:#000;transform:scaleX(0.94);">23 Dec 01:15</div>
<div class="t" style="left:1264.6px;top:927.5px;font-size:10px;color:#000;transform:scaleX(0.94);">30 Dec 05:00</div>
<div class="t" style="left:1328.6px;top:927.5px;font-size:10px;color:#000;transform:scaleX(0.94);">6 Jan 01:15</div>
<div class="t" style="left:1392.6px;top:927.5px;font-size:10px;color:#000;transform:scaleX(0.94);">12 Jan 01:15</div>
<div class="t" style="left:-16px;top:927.5px;font-size:10px;color:#000;transform:scaleX(0.95);">2 Sep 2021</div>
<div class="t" style="left:-8px;top:581.5px;font-size:10px;color:#000;transform:scaleX(0.93);">MACD(12,26,9) 266.39 100.15</div>
<div class="t" style="left:-7.6px;top:753.5px;font-size:10px;color:#000;transform:scaleX(0.91);">RSI(14) 71.9132</div>
<div class="t" style="left:1.2px;top:25.5px;font-size:10px;color:#000;transform:scaleX(0.93);">HK50-,H4&nbsp;&nbsp;24431.0 24479.5 24291.5 24453.0</div>
<div class="pb" style="top:316px;background:#000;color:#fff"><span>24453.0</span></div>
<div class="pb" style="top:264px;background:#FF0000;color:#fff"><span>24835.5</span></div>
<div class="pb" style="top:289px;background:#FF0000;color:#fff"><span>24650.1</span></div>
<div class="pb" style="top:323px;background:#32CD32;color:#fff"><span>24397.9</span></div>
<div class="pb" style="top:344px;background:#0000FF;color:#fff"><span>24242.2</span></div>
<div class="pb" style="top:368px;background:#0000FF;color:#fff"><span>24064.2</span></div>
<div class="lb " style="left:325px;top:422px;width:59px;height:17px;font-size:16px;line-height:19px"><span>23641.4</span></div>
<div class="lb " style="left:1003px;top:322px;width:60px;height:17px;font-size:16px;line-height:19px"><span>24383.1</span></div>
<div class="lb " style="left:1091px;top:555px;width:60px;height:17px;font-size:16px;line-height:19px"><span>22655.0</span></div>
<div class="lb " style="left:1259px;top:548px;width:60px;height:17px;font-size:16px;line-height:19px"><span>22706.9</span></div>
<div class="lb " style="left:1339px;top:301px;width:60px;height:17px;font-size:16px;line-height:19px"><span>24538.8</span></div>
<div class="lb big" style="left:1237px;top:317px;width:72px;height:23px;font-size:22px;line-height:25px"><span>24397.9</span></div>
<svg width="1692" height="941" viewBox="0 0 1692 941">
<g shape-rendering="crispEdges">
<rect x="1365" y="326" width="101" height="7" fill="#00FF00"/>
<rect x="315" y="431" width="10" height="1" fill="#FF0000"/>
<rect x="1065" y="331" width="10" height="1" fill="#FF0000"/>
<rect x="1074" y="331" width="1" height="22" fill="#000"/>
<rect x="1153" y="564" width="9" height="1" fill="#FF0000"/>
<rect x="1321" y="557" width="9" height="1" fill="#FF0000"/>
<rect x="1330" y="543" width="1" height="15" fill="#000"/>
<rect x="1404" y="310" width="7" height="1" fill="#FF0000"/>
<rect x="1227" y="329" width="7" height="1" fill="#FF0000"/>
<rect x="1401.5" y="308.5" width="3" height="3" fill="#fff" stroke="#FF0000" stroke-width="1"/>
<rect x="1234.5" y="327.5" width="3" height="3" fill="#fff" stroke="#FF0000" stroke-width="1"/>
<rect x="1640.5" y="268.5" width="4" height="4" fill="#fff" stroke="#FF0000" stroke-width="1"/>
<rect x="1640.5" y="293.5" width="4" height="4" fill="#fff" stroke="#FF0000" stroke-width="1"/>
<rect x="1640.5" y="327.5" width="4" height="4" fill="#fff" stroke="#32CD32" stroke-width="1"/>
<rect x="1640.5" y="348.5" width="4" height="4" fill="#fff" stroke="#0000FF" stroke-width="1"/>
</g>
<line x1="1335" y1="555" x2="1417.82" y2="308.48" stroke="#FF0000" stroke-width="3.4" shape-rendering="crispEdges"/>
<polygon points="1421,299 1422.43,311.08 1412.57,307.77" fill="#FF0000" shape-rendering="crispEdges"/>
<line x1="1332" y1="685" x2="1426.51" y2="611.34" stroke="#FF0000" stroke-width="3.2" shape-rendering="crispEdges"/>
<polygon points="1434,605.5 1428.79,615.9 1422.64,608.01" fill="#FF0000" shape-rendering="crispEdges"/>
<line x1="1311" y1="866" x2="1407.07" y2="802.73" stroke="#FF0000" stroke-width="3.2" shape-rendering="crispEdges"/>
<polygon points="1415,797.5 1408.98,807.45 1403.48,799.1" fill="#FF0000" shape-rendering="crispEdges"/>
<polygon points="1424,24 1433,24 1428.5,29" fill="#C0C0C0"/>
</svg>

<div id="tp">
<div style="left:0;top:-2px;width:210px;height:61px;background:#fff"></div>
<div class="rb" style="left:0;top:0;width:40.6px;height:24.5px"></div>
<div class="rb" style="left:155.6px;top:0;width:52px;height:24.5px"></div>
<div class="w" style="left:1.5px;top:5px;font-size:12px;line-height:14px;transform:scaleX(.87)">SELL</div>
<div class="w" style="left:169.4px;top:5px;font-size:12px;line-height:14px;transform:scaleX(.92)">BUY</div>
<div style="left:43px;top:0.5px;width:110.5px;height:21px;background:#fff;border:1px solid #A8A8A8"></div>
<div class="gb" style="left:44.4px;top:1.8px;width:18.8px;height:18.4px"></div>
<div class="gb" style="left:133px;top:1.8px;width:19.4px;height:18.4px"></div>
<div style="left:50.5px;top:9px;width:0;height:0;border-left:3px solid transparent;border-right:3px solid transparent;border-top:3px solid #4A64C8"></div>
<div style="left:139.3px;top:8.5px;width:0;height:0;border-left:3px solid transparent;border-right:3px solid transparent;border-bottom:3px solid #4A64C8"></div>
<div style="left:64px;top:2px;width:65.5px;height:18px;font-size:12px;line-height:18px;text-align:right;color:#101020">1.00</div>
<div class="pp" style="left:0;top:24.3px;width:97.6px;height:32.5px"></div>
<div class="pp" style="left:99.7px;top:24.3px;width:107.9px;height:32.5px"></div>
<div style="left:0;top:23.6px;width:37px;height:1px;background:#F08A8A"></div>
<div style="left:159.6px;top:23.6px;width:44px;height:1px;background:#F08A8A"></div>
<div class="w" style="left:5.6px;top:41px;font-size:11.5px;font-weight:bold;line-height:12px;letter-spacing:.55px">24451</div>
<div style="left:44.5px;top:48px;width:3.6px;height:3.6px;background:#fff"></div>
<div class="w" style="left:51.5px;top:22.2px;font-size:33px;line-height:36px;transform:scaleX(.8)">5</div>
<div class="w" style="left:115px;top:41px;font-size:11.5px;font-weight:bold;line-height:12px;letter-spacing:.55px">24467</div>
<div style="left:155.2px;top:48px;width:3.6px;height:3.6px;background:#fff"></div>
<div class="w" style="left:162.2px;top:22.2px;font-size:33px;line-height:36px;transform:scaleX(.8)">5</div>
</div>

</body></html>
